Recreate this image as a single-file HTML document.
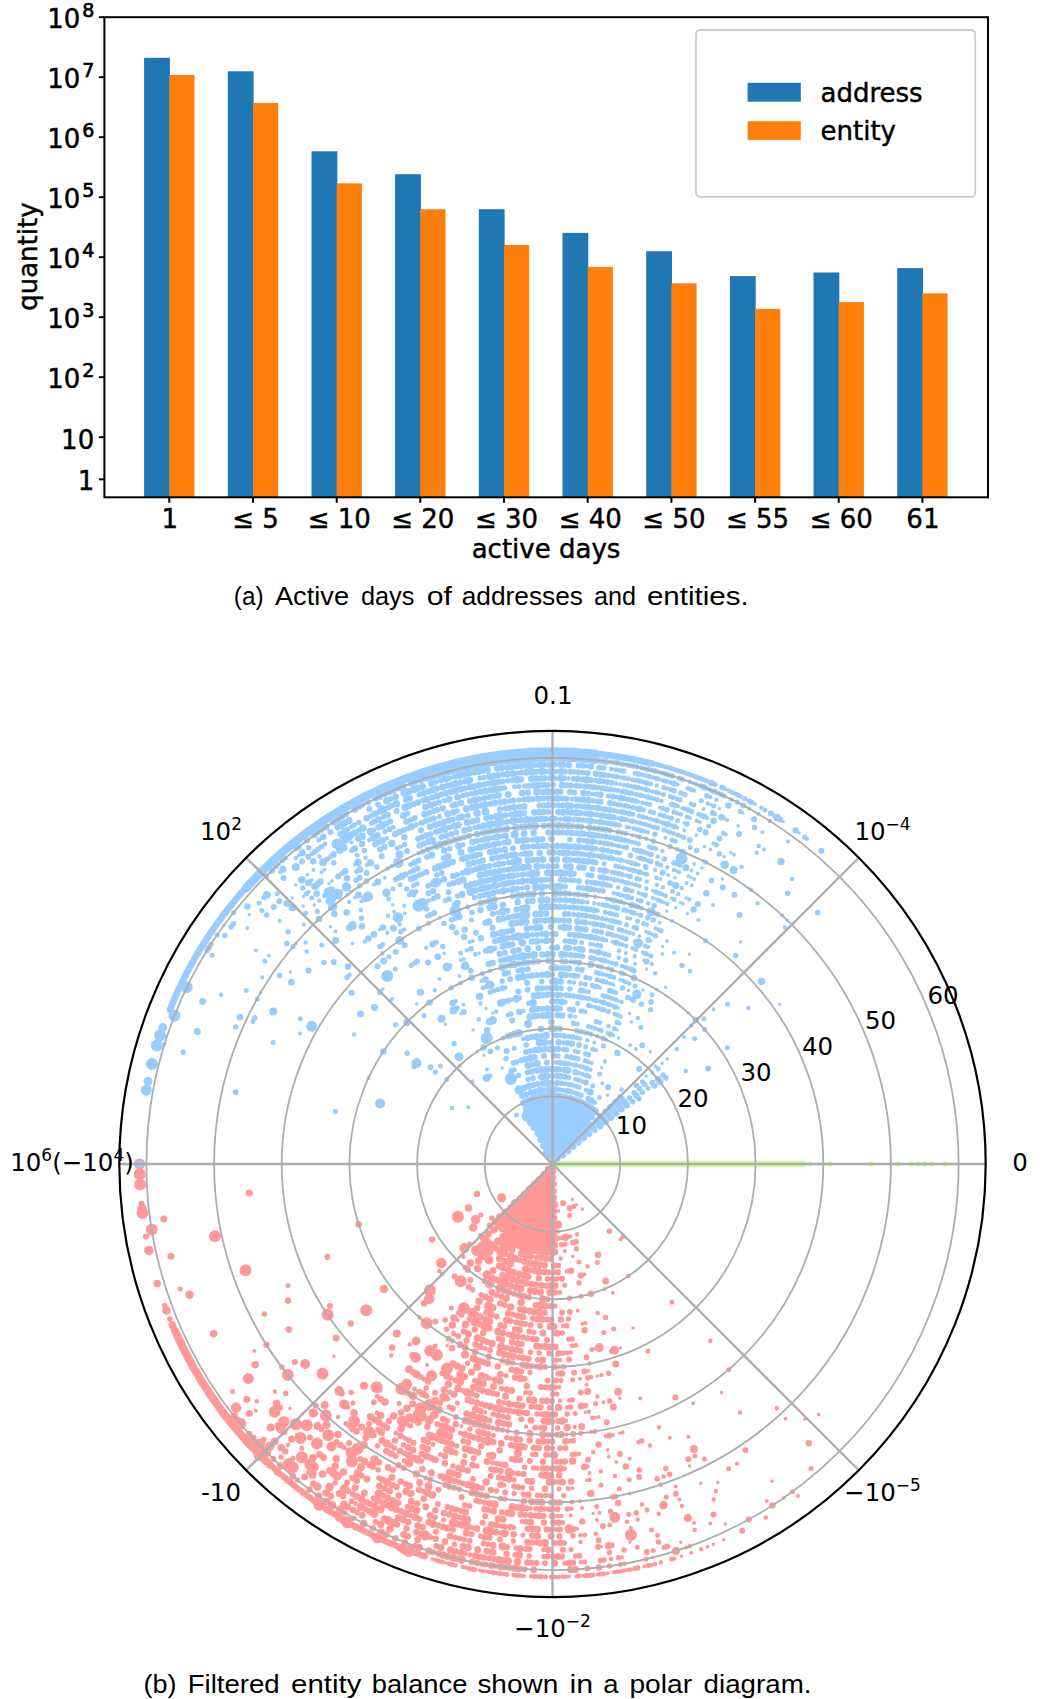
<!DOCTYPE html>
<html><head><meta charset="utf-8"><title>Figure</title>
<style>html,body{margin:0;padding:0;background:#fff}svg{display:block}text{font-family:"DejaVu Sans","Liberation Sans",sans-serif;fill:#000;stroke:#000;stroke-width:.45px}.pl text{stroke:none}.sup{stroke-width:.7px}.cap{font-family:"Liberation Sans",sans-serif;stroke:none}</style></head><body>
<svg width="1050" height="1699" viewBox="0 0 1050 1699">
<rect width="1050" height="1699" fill="#fff"/>
<g id="bars">
<rect x="144.1" y="57.8" width="25.8" height="439.5" fill="#1f77b4"/><rect x="169.3" y="75.0" width="25.2" height="422.3" fill="#ff7f0e"/>
<rect x="227.8" y="71.3" width="25.8" height="426.0" fill="#1f77b4"/><rect x="253.0" y="103.0" width="25.2" height="394.3" fill="#ff7f0e"/>
<rect x="311.5" y="151.3" width="25.8" height="346.0" fill="#1f77b4"/><rect x="336.7" y="183.3" width="25.2" height="314.0" fill="#ff7f0e"/>
<rect x="395.1" y="174.2" width="25.8" height="323.1" fill="#1f77b4"/><rect x="420.3" y="209.2" width="25.2" height="288.1" fill="#ff7f0e"/>
<rect x="478.8" y="209.2" width="25.8" height="288.1" fill="#1f77b4"/><rect x="504.0" y="245.0" width="25.2" height="252.3" fill="#ff7f0e"/>
<rect x="562.5" y="232.9" width="25.8" height="264.4" fill="#1f77b4"/><rect x="587.7" y="266.9" width="25.2" height="230.4" fill="#ff7f0e"/>
<rect x="646.2" y="251.3" width="25.8" height="246.0" fill="#1f77b4"/><rect x="671.4" y="283.3" width="25.2" height="214.0" fill="#ff7f0e"/>
<rect x="729.9" y="276.1" width="25.8" height="221.2" fill="#1f77b4"/><rect x="755.1" y="308.9" width="25.2" height="188.4" fill="#ff7f0e"/>
<rect x="813.5" y="272.5" width="25.8" height="224.8" fill="#1f77b4"/><rect x="838.7" y="302.1" width="25.2" height="195.2" fill="#ff7f0e"/>
<rect x="897.2" y="268.1" width="25.8" height="229.2" fill="#1f77b4"/><rect x="922.4" y="293.3" width="25.2" height="204.0" fill="#ff7f0e"/>
</g>
<rect x="104.4" y="17.2" width="883.6" height="480.1" fill="none" stroke="#000" stroke-width="2"/>
<g stroke="#000" stroke-width="2"><path d="M98.9 17.2H104.4"/><path d="M98.9 77.2H104.4"/><path d="M98.9 137.2H104.4"/><path d="M98.9 197.2H104.4"/><path d="M98.9 257.2H104.4"/><path d="M98.9 317.2H104.4"/><path d="M98.9 377.2H104.4"/><path d="M98.9 437.2H104.4"/><path d="M98.9 479.3H104.4"/><path d="M169.3 497.3V502.8"/><path d="M253.0 497.3V502.8"/><path d="M336.7 497.3V502.8"/><path d="M420.3 497.3V502.8"/><path d="M504.0 497.3V502.8"/><path d="M587.7 497.3V502.8"/><path d="M671.4 497.3V502.8"/><path d="M755.1 497.3V502.8"/><path d="M838.7 497.3V502.8"/><path d="M922.4 497.3V502.8"/></g>
<g font-size="26" text-anchor="end"><text x="80.4" y="27.5">10</text><text x="82.3" y="17.0" class="sup" font-size="19" text-anchor="start">8</text><text x="80.4" y="87.5">10</text><text x="82.3" y="77.0" class="sup" font-size="19" text-anchor="start">7</text><text x="80.4" y="147.5">10</text><text x="82.3" y="137.0" class="sup" font-size="19" text-anchor="start">6</text><text x="80.4" y="207.5">10</text><text x="82.3" y="197.0" class="sup" font-size="19" text-anchor="start">5</text><text x="80.4" y="267.5">10</text><text x="82.3" y="257.0" class="sup" font-size="19" text-anchor="start">4</text><text x="80.4" y="327.5">10</text><text x="82.3" y="317.0" class="sup" font-size="19" text-anchor="start">3</text><text x="80.4" y="387.5">10</text><text x="82.3" y="377.0" class="sup" font-size="19" text-anchor="start">2</text><text x="94.2" y="448.6">10</text><text x="94.2" y="490.2">1</text></g>
<g font-size="26" text-anchor="middle"><text x="169.8" y="528">1</text><text x="255.5" y="528">≤ 5</text><text x="339.2" y="528">≤ 10</text><text x="422.8" y="528">≤ 20</text><text x="506.5" y="528">≤ 30</text><text x="590.2" y="528">≤ 40</text><text x="673.9" y="528">≤ 50</text><text x="757.6" y="528">≤ 55</text><text x="841.2" y="528">≤ 60</text><text x="922.9" y="528">61</text><text x="546" y="557.8">active days</text><text transform="translate(36.8 256.6) rotate(-90)">quantity</text></g>
<rect x="696" y="30" width="279.2" height="166.8" rx="4" fill="#fff" stroke="#ccc" stroke-width="1.8"/><rect x="747.6" y="82.8" width="53.2" height="18.9" fill="#1f77b4"/><rect x="747.6" y="121.2" width="53.2" height="18.7" fill="#ff7f0e"/><text x="820.5" y="101.7" font-size="26">address</text><text x="820.5" y="139.6" font-size="26">entity</text>
<text class="cap" y="605.3" font-size="26"><tspan x="233.8" textLength="29.8" lengthAdjust="spacingAndGlyphs">(a)</tspan> <tspan x="275.0" textLength="74.0" lengthAdjust="spacingAndGlyphs">Active</tspan> <tspan x="360.9" textLength="53.4" lengthAdjust="spacingAndGlyphs">days</tspan> <tspan x="426.7" textLength="25.2" lengthAdjust="spacingAndGlyphs">of</tspan> <tspan x="461.7" textLength="121.3" lengthAdjust="spacingAndGlyphs">addresses</tspan> <tspan x="593.9" textLength="42.1" lengthAdjust="spacingAndGlyphs">and</tspan> <tspan x="646.9" textLength="101.8" lengthAdjust="spacingAndGlyphs">entities.</tspan></text>
<text class="cap" y="1692.7" font-size="26"><tspan x="143.4" textLength="33.0" lengthAdjust="spacingAndGlyphs">(b)</tspan> <tspan x="187.7" textLength="92.0" lengthAdjust="spacingAndGlyphs">Filtered</tspan> <tspan x="291.1" textLength="70.3" lengthAdjust="spacingAndGlyphs">entity</tspan> <tspan x="371.7" textLength="95.7" lengthAdjust="spacingAndGlyphs">balance</tspan> <tspan x="477.4" textLength="80.8" lengthAdjust="spacingAndGlyphs">shown</tspan> <tspan x="569.6" textLength="23.7" lengthAdjust="spacingAndGlyphs">in</tspan> <tspan x="603.3" textLength="15.3" lengthAdjust="spacingAndGlyphs">a</tspan> <tspan x="629.4" textLength="62.7" lengthAdjust="spacingAndGlyphs">polar</tspan> <tspan x="703.6" textLength="107.9" lengthAdjust="spacingAndGlyphs">diagram.</tspan></text>
<path d="M555.9 1164.0H802.9" stroke="#ccff99" stroke-width="6.6" stroke-linecap="round" fill="none"/><g fill="none" stroke="#ccff99" stroke-linecap="round">
<path stroke-width="5.5" d="M809.7 1164.0h0M823.2 1164.0h0M830.0 1164.0h0M870.6 1164.0h0M897.7 1164.0h0M911.2 1164.0h0M918.0 1164.0h0M924.8 1164.0h0M931.5 1164.0h0M945.1 1164.0h0"/>
<path stroke-width="6.5" d="M559.3 1164.0h0M566.0 1164.0h0M572.8 1164.0h0M579.6 1164.0h0M586.3 1164.0h0M593.1 1164.0h0M599.9 1164.0h0M606.6 1164.0h0M613.4 1164.0h0M620.2 1164.0h0M627.0 1164.0h0M633.7 1164.0h0M640.5 1164.0h0M647.3 1164.0h0M654.0 1164.0h0M660.8 1164.0h0M667.6 1164.0h0M674.3 1164.0h0M681.1 1164.0h0M687.9 1164.0h0M694.6 1164.0h0M701.4 1164.0h0M708.2 1164.0h0M715.0 1164.0h0M721.7 1164.0h0M728.5 1164.0h0M735.3 1164.0h0M742.0 1164.0h0M748.8 1164.0h0M755.6 1164.0h0M762.3 1164.0h0M769.1 1164.0h0M775.9 1164.0h0M782.6 1164.0h0M789.4 1164.0h0M796.2 1164.0h0M802.9 1164.0h0"/>
</g>
<path d="M178.6 1338.4A412.6 412.6 0 0 0 425.0 1556.4" fill="none" stroke="#ff9999" stroke-width="6.2" stroke-linecap="round"/><path d="M175.6 1331.8A412.6 412.6 0 0 0 265.9 1460.8" fill="none" stroke="#ff9999" stroke-width="8.2" stroke-linecap="round"/><path d="M548.9 1169.7A6.8 6.8 0 0 0 552.4 1170.8" fill="none" stroke="#ff9999" stroke-width="7.4" stroke-linecap="round"/><path d="M544.2 1174.7A13.5 13.5 0 0 0 552.6 1177.5" fill="none" stroke="#ff9999" stroke-width="7.4" stroke-linecap="round"/><path d="M539.4 1179.6A20.3 20.3 0 0 0 552.8 1184.3" fill="none" stroke="#ff9999" stroke-width="7.4" stroke-linecap="round"/><path d="M534.7 1184.4A27.1 27.1 0 0 0 553.0 1191.1" fill="none" stroke="#ff9999" stroke-width="7.4" stroke-linecap="round"/><path d="M530.0 1189.3A33.8 33.8 0 0 0 553.1 1197.8" fill="none" stroke="#ff9999" stroke-width="7.4" stroke-linecap="round"/><path d="M525.3 1194.2A40.6 40.6 0 0 0 553.3 1204.6" fill="none" stroke="#ff9999" stroke-width="7.4" stroke-linecap="round"/><path d="M520.8 1199.2A47.4 47.4 0 0 0 553.5 1211.4" fill="none" stroke="#ff9999" stroke-width="7.4" stroke-linecap="round"/><path d="M516.3 1204.2A54.1 54.1 0 0 0 553.7 1218.1" fill="none" stroke="#ff9999" stroke-width="7.4" stroke-linecap="round"/><path d="M511.7 1209.3A60.9 60.9 0 0 0 553.9 1224.9" fill="none" stroke="#ff9999" stroke-width="7.4" stroke-linecap="round"/><path d="M507.2 1214.3A67.7 67.7 0 0 0 554.0 1231.7" fill="none" stroke="#ff9999" stroke-width="7.4" stroke-linecap="round"/><path d="M502.7 1219.3A74.5 74.5 0 0 0 554.2 1238.4" fill="none" stroke="#ff9999" stroke-width="7.4" stroke-linecap="round"/><path d="M507.1 1231.3A81.2 81.2 0 0 0 554.4 1245.2" fill="none" stroke="#ff9999" stroke-width="7.4" stroke-linecap="round"/><path d="M503.3 1237.0A88.0 88.0 0 0 0 554.6 1252.0" fill="none" stroke="#ff9999" stroke-width="7.4" stroke-linecap="round"/><g fill="none" stroke="#ff9999" stroke-linecap="round">
<path stroke-width="3.5" d="M555.7 1184.1h0M555.2 1190.9h0M572.3 1199.5h0M558.6 1211.0h0M576.4 1204.9h0M582.4 1209.1h0M572.7 1256.6h0M633.0 1328.1h0M620.6 1348.1h0M447.3 1345.6h0M597.3 1375.9h0M443.5 1366.7h0M619.8 1398.2h0M585.2 1412.3h0M595.4 1417.6h0M619.7 1433.3h0M721.6 1392.5h0M333.9 1356.2h0M607.7 1449.8h0M586.5 1480.3h0M689.5 1466.1h0M593.1 1513.6h0M700.7 1483.3h0M289.9 1408.4h0M717.8 1482.4h0M804.8 1419.1h0M601.3 1546.7h0M629.8 1542.0h0M772.1 1481.2h0M680.7 1542.2h0M725.2 1524.1h0M652.6 1557.6h0M783.6 1497.9h0M445.9 1562.9h0M597.3 1574.5h0M681.4 1556.3h0M713.3 1544.3h0M723.6 1539.8h0"/>
<path stroke-width="4.0" d="M558.2 1231.5h0M564.8 1251.1h0M480.1 1235.1h0M620.4 1239.5h0M584.3 1274.6h0M604.7 1288.9h0M612.8 1292.7h0M577.7 1310.8h0M582.4 1323.7h0M585.7 1323.0h0M457.7 1320.3h0M596.0 1348.5h0M559.3 1366.9h0M588.1 1370.8h0M580.0 1378.8h0M586.4 1384.8h0M427.1 1365.0h0M603.5 1402.3h0M640.2 1398.6h0M566.3 1420.8h0M598.6 1417.0h0M566.3 1434.4h0M591.1 1432.0h0M461.4 1426.2h0M622.6 1432.5h0M693.2 1403.2h0M608.7 1456.5h0M669.8 1437.8h0M616.2 1461.9h0M629.6 1458.7h0M688.2 1436.7h0M589.6 1473.1h0M572.4 1488.3h0M580.1 1501.3h0M629.8 1493.5h0M582.1 1507.9h0M675.8 1486.4h0M785.5 1418.7h0M254.3 1351.0h0M570.8 1515.5h0M599.7 1512.8h0M736.9 1463.8h0M597.0 1520.0h0M679.4 1499.5h0M577.1 1528.7h0M818.7 1414.4h0M630.8 1528.0h0M255.8 1410.7h0M694.0 1522.9h0M710.3 1523.5h0M621.9 1557.3h0M766.7 1501.1h0M686.4 1547.4h0M416.3 1553.8h0M432.5 1559.1h0M475.7 1569.7h0M479.9 1570.5h0M486.6 1571.6h0M568.8 1576.6h0M576.4 1576.2h0M583.1 1575.8h0M607.4 1573.2h0M644.2 1566.6h0M691.4 1552.8h0M707.4 1546.8h0M797.8 1496.1h0"/>
<path stroke-width="4.5" d="M561.8 1237.9h0M569.9 1236.4h0M577.0 1234.3h0M560.6 1258.4h0M622.7 1237.3h0M587.6 1266.4h0M463.4 1256.7h0M628.5 1276.1h0M439.3 1270.9h0M442.1 1273.7h0M597.7 1313.0h0M570.8 1352.6h0M560.1 1360.1h0M419.5 1317.4h0M589.7 1363.6h0M591.1 1377.1h0M601.5 1375.0h0M559.2 1387.3h0M409.7 1344.5h0M560.1 1400.8h0M569.1 1400.3h0M597.4 1396.6h0M710.3 1340.7h0M567.2 1407.2h0M391.2 1355.6h0M588.9 1411.8h0M485.1 1412.2h0M592.3 1418.1h0M526.0 1426.6h0M574.7 1427.0h0M606.0 1436.3h0M612.4 1435.0h0M380.3 1390.2h0M659.0 1427.6h0M579.1 1453.8h0M593.1 1452.2h0M638.2 1442.2h0M650.0 1445.4h0M376.8 1412.8h0M587.4 1466.6h0M600.9 1471.6h0M740.1 1412.5h0M589.5 1480.0h0M615.0 1475.9h0M338.1 1417.1h0M663.6 1476.5h0M776.8 1408.3h0M660.6 1484.7h0M530.5 1508.5h0M571.4 1508.7h0M557.3 1515.9h0M561.4 1515.9h0M641.9 1504.4h0M275.0 1391.4h0M627.1 1521.8h0M637.7 1519.4h0M658.7 1513.8h0M681.9 1505.9h0M715.8 1491.0h0M580.4 1535.2h0M595.7 1533.8h0M713.7 1499.6h0M256.8 1401.2h0M580.5 1542.0h0M287.9 1444.8h0M694.7 1529.9h0M580.9 1562.3h0M611.1 1559.0h0M624.4 1563.7h0M689.8 1546.2h0M280.5 1474.6h0M292.1 1484.5h0M436.0 1560.1h0M455.7 1565.4h0M462.6 1567.0h0M465.5 1567.6h0M482.8 1571.0h0M489.6 1572.1h0M496.8 1573.1h0M503.7 1574.0h0M513.4 1575.0h0M520.3 1575.6h0M523.8 1575.9h0M531.2 1576.3h0M554.9 1576.9h0M558.4 1576.9h0M562.3 1576.8h0M565.5 1576.7h0M614.3 1572.2h0M617.5 1571.7h0M620.9 1571.2h0M624.1 1570.6h0M627.9 1569.9h0M630.8 1569.4h0M651.3 1564.9h0M655.0 1564.0h0M660.9 1562.4h0M674.2 1558.5h0M701.2 1549.2h0M765.9 1517.5h0"/>
<path stroke-width="5.0" d="M547.5 1168.5h0M554.5 1197.8h0M554.4 1211.3h0M573.6 1206.4h0M569.6 1215.4h0M565.1 1244.2h0M480.8 1215.0h0M578.9 1262.0h0M567.1 1271.3h0M597.3 1262.6h0M469.6 1243.8h0M564.7 1285.2h0M559.7 1292.4h0M581.0 1296.3h0M563.4 1326.1h0M451.4 1308.0h0M458.5 1312.8h0M603.7 1332.4h0M613.6 1329.0h0M572.2 1345.7h0M575.8 1345.3h0M671.9 1302.3h0M567.3 1352.9h0M591.9 1349.4h0M485.2 1348.4h0M611.4 1351.3h0M452.7 1340.9h0M647.9 1350.9h0M435.2 1346.1h0M506.1 1375.6h0M572.7 1379.7h0M489.6 1378.3h0M525.6 1392.6h0M556.9 1394.1h0M462.4 1390.4h0M503.4 1402.7h0M595.6 1403.8h0M575.2 1413.4h0M447.7 1398.9h0M457.4 1403.0h0M552.8 1421.2h0M414.5 1389.0h0M492.9 1428.1h0M507.7 1431.0h0M580.6 1433.3h0M595.0 1431.4h0M728.6 1369.7h0M493.4 1435.2h0M511.0 1438.4h0M569.8 1441.0h0M399.1 1403.4h0M460.4 1433.0h0M552.4 1448.3h0M288.0 1285.4h0M377.1 1396.3h0M532.3 1454.4h0M549.9 1455.0h0M571.9 1454.4h0M433.0 1444.2h0M464.8 1455.7h0M492.6 1462.7h0M537.0 1468.2h0M564.5 1468.4h0M352.9 1403.0h0M396.0 1433.1h0M405.0 1438.2h0M440.5 1454.5h0M504.0 1485.3h0M559.1 1488.8h0M568.1 1488.5h0M601.1 1485.3h0M629.2 1479.7h0M694.9 1456.0h0M345.9 1423.5h0M348.7 1425.7h0M404.2 1460.7h0M541.5 1495.5h0M563.7 1495.5h0M619.4 1488.8h0M704.4 1458.9h0M425.9 1477.9h0M571.9 1501.9h0M596.6 1506.4h0M666.2 1497.1h0M728.6 1468.8h0M522.1 1521.5h0M562.7 1522.6h0M628.8 1514.5h0M646.9 1510.1h0M513.8 1527.5h0M555.5 1529.5h0M609.8 1525.0h0M443.6 1520.0h0M472.9 1527.7h0M500.7 1532.7h0M522.9 1535.1h0M584.8 1534.9h0M301.8 1448.3h0M651.5 1529.9h0M543.8 1549.7h0M571.0 1549.4h0M657.6 1535.2h0M180.3 1289.0h0M232.5 1391.5h0M355.8 1503.7h0M575.4 1555.9h0M637.3 1547.3h0M470.0 1554.7h0M564.6 1563.2h0M584.8 1562.0h0M653.3 1550.4h0M663.9 1547.5h0M811.0 1468.4h0M353.9 1518.3h0M620.5 1564.4h0M645.9 1559.2h0M792.3 1491.8h0M412.4 1552.4h0M438.6 1560.9h0M442.7 1562.0h0M449.4 1563.8h0M452.5 1564.6h0M469.0 1568.4h0M500.0 1573.5h0M506.9 1574.4h0M516.9 1575.4h0M534.8 1576.5h0M538.0 1576.6h0M545.3 1576.8h0M551.3 1576.9h0M579.0 1576.0h0M590.0 1575.2h0M593.0 1574.9h0M599.8 1574.2h0M603.4 1573.7h0M634.8 1568.6h0M648.2 1565.6h0M671.6 1559.3h0"/>
<path stroke-width="5.5" d="M550.3 1184.2h0M550.2 1191.0h0M549.6 1197.7h0M553.9 1218.1h0M543.6 1224.3h0M553.7 1231.7h0M557.6 1238.3h0M491.8 1218.0h0M561.5 1244.7h0M576.2 1241.7h0M576.4 1248.7h0M609.3 1231.2h0M558.4 1265.4h0M556.8 1279.0h0M521.6 1281.8h0M579.0 1282.9h0M465.1 1267.4h0M569.6 1298.3h0M554.7 1306.1h0M457.6 1278.8h0M472.7 1289.7h0M481.1 1294.7h0M568.3 1318.9h0M566.8 1325.8h0M605.6 1317.5h0M533.8 1332.2h0M562.4 1332.9h0M508.5 1334.4h0M568.7 1339.2h0M572.1 1338.9h0M445.1 1320.1h0M530.5 1352.2h0M539.2 1353.1h0M562.8 1353.2h0M446.5 1329.2h0M453.7 1333.6h0M537.5 1359.7h0M556.3 1360.3h0M502.4 1360.8h0M512.7 1363.1h0M536.3 1366.4h0M545.3 1366.9h0M563.5 1366.8h0M530.0 1372.6h0M467.6 1363.3h0M560.8 1380.4h0M587.7 1377.7h0M608.6 1373.2h0M474.7 1380.6h0M501.6 1388.4h0M530.0 1393.0h0M442.0 1373.5h0M450.9 1378.0h0M572.2 1400.1h0M513.1 1404.5h0M549.6 1407.7h0M570.7 1407.0h0M585.7 1405.4h0M609.6 1400.9h0M424.6 1379.4h0M449.6 1392.3h0M522.7 1412.7h0M537.0 1414.0h0M541.5 1414.2h0M567.1 1414.0h0M426.2 1388.1h0M493.3 1414.3h0M503.0 1416.4h0M449.1 1406.9h0M540.8 1427.7h0M557.7 1427.9h0M502.3 1430.1h0M548.5 1434.7h0M552.3 1434.7h0M470.0 1429.0h0M506.7 1437.7h0M535.9 1454.6h0M575.1 1454.2h0M641.6 1441.1h0M410.5 1425.8h0M456.6 1446.0h0M488.6 1454.9h0M556.4 1461.8h0M351.1 1392.5h0M497.4 1463.6h0M501.2 1464.2h0M524.6 1467.3h0M533.5 1468.0h0M551.1 1468.6h0M476.7 1466.0h0M513.1 1472.9h0M347.3 1407.1h0M403.5 1445.1h0M452.9 1466.1h0M513.9 1479.8h0M558.2 1482.1h0M639.3 1470.1h0M264.3 1314.0h0M390.8 1445.8h0M394.5 1447.9h0M404.5 1453.2h0M421.3 1461.2h0M522.5 1487.5h0M531.6 1488.2h0M665.8 1468.5h0M377.6 1445.8h0M496.5 1490.9h0M514.2 1493.5h0M523.3 1494.4h0M537.4 1495.3h0M545.7 1495.6h0M550.8 1495.7h0M657.1 1478.8h0M669.7 1474.3h0M281.8 1367.1h0M459.1 1489.3h0M500.6 1498.4h0M504.8 1499.1h0M550.8 1502.4h0M612.6 1497.1h0M615.4 1496.5h0M536.0 1508.8h0M544.9 1509.1h0M553.1 1509.2h0M567.4 1508.9h0M285.7 1393.5h0M321.3 1429.4h0M343.6 1447.3h0M348.2 1450.6h0M378.1 1469.7h0M423.6 1491.5h0M610.5 1511.2h0M378.9 1477.9h0M636.3 1512.8h0M458.9 1517.3h0M501.1 1525.9h0M297.8 1435.5h0M435.2 1517.3h0M572.9 1535.7h0M410.3 1515.4h0M480.6 1536.2h0M513.4 1541.0h0M536.5 1542.7h0M564.3 1542.9h0M335.2 1482.8h0M455.5 1537.4h0M464.1 1539.6h0M487.7 1544.3h0M516.2 1548.1h0M612.0 1545.2h0M292.9 1458.5h0M308.9 1471.9h0M454.6 1544.2h0M529.2 1555.9h0M544.0 1556.5h0M609.4 1552.4h0M624.1 1550.0h0M658.5 1542.0h0M281.1 1457.0h0M600.5 1560.5h0M604.2 1560.0h0M618.6 1557.8h0M297.5 1480.1h0M344.5 1512.8h0M481.9 1563.9h0M495.5 1566.1h0M609.5 1566.1h0M164.7 1305.6h0M169.8 1319.1h0M183.8 1349.8h0M303.2 1493.2h0M323.2 1507.4h0M422.4 1555.9h0M473.1 1569.2h0M493.1 1572.6h0M540.9 1576.7h0M586.3 1575.5h0M637.7 1568.0h0"/>
<path stroke-width="6.0" d="M563.1 1203.2h0M535.4 1208.2h0M550.1 1211.3h0M569.5 1208.2h0M543.8 1217.4h0M552.9 1224.9h0M548.6 1231.6h0M543.5 1237.9h0M548.4 1238.3h0M553.0 1238.5h0M573.1 1242.6h0M489.6 1225.5h0M546.6 1251.8h0M537.0 1257.5h0M519.5 1260.0h0M530.0 1269.9h0M548.5 1272.2h0M553.6 1272.3h0M547.6 1279.0h0M552.8 1279.1h0M562.0 1278.7h0M546.3 1285.7h0M554.9 1292.6h0M484.6 1281.1h0M514.2 1293.8h0M529.0 1297.3h0M547.6 1299.3h0M470.3 1279.9h0M501.7 1296.7h0M535.7 1305.2h0M550.3 1306.1h0M454.5 1276.2h0M468.5 1286.9h0M504.8 1305.1h0M519.6 1309.2h0M562.0 1312.6h0M569.8 1311.9h0M512.7 1314.5h0M532.8 1318.4h0M546.6 1319.6h0M496.8 1316.6h0M510.7 1321.0h0M516.3 1322.4h0M525.1 1324.1h0M530.7 1325.0h0M540.0 1326.0h0M500.4 1325.0h0M504.4 1326.2h0M514.9 1329.0h0M529.3 1331.6h0M461.6 1314.7h0M469.5 1319.2h0M523.1 1337.5h0M536.5 1339.3h0M547.1 1339.9h0M498.6 1338.6h0M506.5 1347.9h0M520.9 1350.9h0M549.3 1353.5h0M435.3 1321.5h0M458.3 1336.2h0M490.1 1350.1h0M519.2 1357.4h0M569.0 1359.6h0M586.5 1357.3h0M448.7 1338.6h0M531.3 1365.9h0M521.2 1371.5h0M558.2 1373.8h0M574.1 1372.7h0M584.3 1371.4h0M524.6 1378.8h0M547.6 1380.5h0M555.7 1380.6h0M540.7 1387.1h0M545.3 1387.3h0M554.5 1387.4h0M553.0 1394.1h0M580.7 1392.4h0M492.7 1393.2h0M497.1 1394.3h0M519.4 1398.6h0M552.1 1400.9h0M327.3 1257.0h0M476.7 1395.6h0M499.0 1401.7h0M531.4 1406.8h0M536.5 1407.1h0M420.8 1377.0h0M481.4 1404.1h0M514.0 1411.5h0M550.0 1414.4h0M435.0 1392.8h0M480.6 1411.0h0M498.2 1415.4h0M507.7 1417.3h0M521.3 1419.3h0M558.3 1421.1h0M330.0 1306.0h0M419.1 1391.8h0M426.5 1395.9h0M475.3 1416.5h0M489.7 1420.4h0M535.3 1427.4h0M606.8 1422.3h0M675.4 1397.6h0M409.5 1393.9h0M456.0 1417.0h0M479.4 1424.7h0M488.4 1427.1h0M497.5 1429.1h0M516.7 1432.4h0M557.2 1434.7h0M573.2 1434.0h0M447.2 1420.8h0M488.4 1434.0h0M520.2 1439.6h0M538.3 1441.2h0M547.8 1441.5h0M552.5 1441.5h0M573.0 1440.8h0M609.3 1435.6h0M437.4 1423.9h0M560.1 1448.2h0M565.5 1448.0h0M463.3 1441.1h0M545.9 1455.0h0M373.8 1402.3h0M474.1 1451.3h0M511.6 1459.0h0M520.2 1460.1h0M529.8 1461.0h0M560.2 1461.7h0M588.0 1459.7h0M620.0 1454.1h0M428.0 1442.0h0M455.7 1452.8h0M473.6 1458.2h0M341.9 1393.4h0M409.0 1440.3h0M413.6 1442.7h0M491.1 1469.3h0M518.2 1473.5h0M369.0 1423.9h0M378.0 1430.0h0M490.6 1476.1h0M504.0 1478.4h0M527.3 1481.1h0M554.4 1482.1h0M294.9 1362.0h0M373.8 1435.3h0M473.0 1479.0h0M514.2 1486.6h0M639.2 1477.1h0M688.3 1459.2h0M395.4 1456.1h0M459.0 1482.2h0M463.3 1483.5h0M481.9 1488.1h0M505.1 1492.3h0M315.5 1405.6h0M403.5 1467.9h0M430.4 1479.6h0M445.3 1485.0h0M454.2 1487.8h0M481.6 1494.9h0M349.1 1442.9h0M393.0 1470.1h0M438.5 1489.8h0M461.7 1497.1h0M476.3 1500.7h0M479.6 1501.4h0M484.8 1502.5h0M526.6 1508.2h0M549.4 1509.2h0M557.5 1509.2h0M745.4 1450.3h0M336.5 1441.9h0M360.4 1458.9h0M405.7 1483.9h0M464.8 1504.9h0M469.5 1506.0h0M488.7 1510.1h0M501.8 1512.3h0M525.3 1514.9h0M534.8 1515.5h0M543.5 1515.9h0M675.8 1493.7h0M437.9 1504.0h0M447.4 1507.0h0M456.4 1509.6h0M461.2 1510.9h0M485.1 1516.3h0M526.2 1521.8h0M280.0 1407.6h0M310.0 1437.5h0M361.7 1475.8h0M482.6 1522.8h0M504.7 1526.4h0M551.4 1529.5h0M559.9 1529.4h0M602.9 1526.0h0M407.4 1506.8h0M559.4 1536.2h0M347.1 1482.6h0M373.6 1498.2h0M419.4 1518.9h0M452.9 1529.7h0M471.6 1534.3h0M489.6 1537.8h0M499.8 1539.4h0M531.8 1542.5h0M554.9 1543.0h0M598.6 1540.2h0M348.3 1491.3h0M435.9 1531.8h0M459.7 1538.5h0M469.7 1540.8h0M483.6 1543.6h0M507.4 1547.2h0M525.8 1548.9h0M529.6 1549.1h0M562.9 1549.7h0M598.1 1547.1h0M713.5 1514.6h0M351.6 1501.3h0M365.2 1509.0h0M397.4 1524.7h0M430.3 1537.1h0M515.4 1554.8h0M547.8 1556.6h0M579.2 1555.7h0M263.6 1439.7h0M357.4 1512.5h0M375.5 1522.0h0M436.3 1546.1h0M464.6 1553.6h0M489.2 1558.3h0M494.2 1559.1h0M531.7 1562.8h0M536.3 1563.0h0M545.0 1563.3h0M573.3 1562.8h0M646.9 1552.0h0M667.1 1546.6h0M273.3 1458.9h0M433.2 1552.2h0M485.5 1564.6h0M504.6 1567.3h0M524.6 1569.2h0M587.5 1568.6h0M748.7 1519.6h0M141.5 1203.7h0M146.0 1236.5h0M175.5 1332.4h0M186.3 1354.8h0M197.7 1375.2h0M205.7 1388.1h0M208.5 1392.4h0M231.3 1423.4h0M262.8 1458.2h0M266.9 1462.2h0M288.1 1481.1h0M314.4 1501.3h0M359.9 1529.2h0M742.2 1530.7h0"/>
<path stroke-width="6.5" d="M550.9 1177.4h0M541.0 1188.5h0M540.6 1195.7h0M510.4 1208.0h0M543.8 1231.1h0M523.0 1232.3h0M533.2 1235.9h0M477.0 1194.1h0M527.5 1241.3h0M537.0 1243.7h0M547.5 1245.1h0M551.2 1245.2h0M517.1 1244.6h0M522.3 1246.6h0M532.1 1249.6h0M551.8 1252.0h0M530.9 1256.3h0M551.1 1258.8h0M540.1 1264.8h0M544.8 1265.2h0M554.2 1265.5h0M598.1 1254.7h0M533.9 1270.7h0M557.8 1272.2h0M571.0 1270.7h0M538.8 1278.3h0M580.9 1275.5h0M531.8 1284.1h0M535.9 1284.7h0M541.3 1285.3h0M491.8 1277.4h0M467.8 1269.6h0M519.2 1295.2h0M590.9 1293.8h0M432.1 1239.5h0M496.7 1294.7h0M500.2 1303.4h0M544.5 1312.7h0M508.0 1313.2h0M517.8 1315.8h0M536.9 1318.9h0M551.2 1319.7h0M560.8 1319.5h0M477.2 1307.9h0M486.4 1312.4h0M521.1 1323.4h0M584.6 1330.2h0M480.0 1324.3h0M517.8 1336.5h0M527.4 1338.2h0M532.8 1338.9h0M474.7 1329.4h0M483.2 1333.1h0M502.1 1339.7h0M512.0 1342.2h0M517.7 1343.4h0M521.4 1344.1h0M540.8 1346.4h0M550.2 1346.7h0M555.5 1346.7h0M424.1 1303.4h0M463.8 1331.5h0M486.8 1341.8h0M516.8 1350.1h0M558.3 1353.4h0M466.5 1340.4h0M475.6 1344.6h0M499.3 1352.9h0M508.4 1355.3h0M523.2 1358.1h0M528.3 1358.8h0M358.6 1224.2h0M475.0 1351.7h0M488.7 1356.8h0M522.5 1364.8h0M554.8 1367.0h0M452.1 1348.2h0M478.6 1360.4h0M482.9 1361.9h0M497.7 1366.5h0M511.5 1369.8h0M562.0 1373.6h0M515.2 1377.4h0M526.8 1385.9h0M550.7 1387.4h0M506.6 1389.5h0M455.8 1380.3h0M478.9 1389.2h0M482.7 1390.4h0M542.3 1400.7h0M546.9 1400.8h0M392.1 1347.4h0M522.3 1405.8h0M540.4 1407.4h0M413.3 1372.2h0M428.2 1381.4h0M471.4 1401.0h0M485.7 1405.4h0M503.8 1409.7h0M509.2 1410.7h0M526.8 1413.1h0M554.9 1414.4h0M350.8 1323.6h0M543.6 1421.1h0M439.8 1402.7h0M452.6 1408.4h0M466.5 1413.6h0M503.6 1423.4h0M544.2 1427.8h0M434.0 1407.4h0M470.1 1421.9h0M484.0 1425.9h0M443.2 1419.1h0M455.7 1424.1h0M478.5 1431.5h0M529.7 1440.6h0M565.4 1441.2h0M469.8 1436.0h0M474.6 1437.4h0M484.1 1439.9h0M493.3 1442.1h0M510.9 1445.2h0M534.0 1447.7h0M539.0 1448.0h0M598.6 1444.5h0M380.9 1399.1h0M400.9 1412.4h0M427.5 1426.8h0M468.1 1442.6h0M481.2 1446.2h0M499.7 1450.2h0M288.0 1300.8h0M406.3 1423.5h0M446.8 1442.4h0M478.3 1452.4h0M542.9 1461.7h0M564.9 1461.6h0M388.9 1420.9h0M423.8 1440.1h0M505.3 1464.9h0M542.6 1468.4h0M546.9 1468.5h0M556.2 1468.6h0M584.1 1467.0h0M288.7 1329.5h0M383.4 1425.4h0M387.0 1427.7h0M400.7 1435.8h0M422.8 1447.1h0M444.9 1456.2h0M472.5 1464.9h0M500.5 1471.0h0M523.4 1474.0h0M541.4 1475.2h0M559.2 1475.3h0M625.8 1466.6h0M395.1 1440.5h0M413.2 1450.0h0M421.7 1454.0h0M431.2 1458.1h0M444.8 1463.3h0M467.6 1470.6h0M499.0 1477.6h0M571.1 1481.6h0M400.1 1450.9h0M413.5 1457.7h0M453.7 1473.5h0M458.3 1474.9h0M500.5 1484.7h0M517.8 1487.0h0M545.0 1488.8h0M356.5 1431.6h0M365.6 1438.0h0M422.4 1469.1h0M440.9 1476.3h0M454.7 1480.9h0M490.9 1489.9h0M266.4 1344.7h0M398.4 1465.3h0M449.5 1486.4h0M486.7 1496.0h0M523.8 1501.2h0M537.1 1502.1h0M554.7 1502.4h0M559.5 1502.4h0M378.9 1462.4h0M540.5 1509.0h0M618.1 1502.9h0M340.4 1444.9h0M373.0 1466.7h0M400.7 1481.5h0M484.5 1509.3h0M520.7 1514.5h0M530.6 1515.3h0M392.3 1485.0h0M396.6 1487.1h0M423.7 1498.8h0M452.0 1508.4h0M543.9 1522.6h0M553.3 1522.7h0M558.8 1522.7h0M582.2 1521.5h0M379.3 1485.9h0M384.6 1488.6h0M398.6 1495.5h0M417.2 1503.5h0M435.3 1510.2h0M443.9 1513.0h0M449.2 1514.6h0M491.2 1524.3h0M496.2 1525.1h0M510.3 1527.1h0M528.0 1528.7h0M546.7 1529.5h0M573.4 1528.9h0M352.4 1477.9h0M356.9 1480.8h0M383.3 1495.6h0M388.0 1498.0h0M513.7 1534.3h0M532.3 1535.7h0M278.0 1425.4h0M284.3 1431.9h0M400.6 1511.3h0M438.3 1525.4h0M442.4 1526.7h0M559.9 1543.0h0M808.8 1443.2h0M353.1 1494.3h0M366.8 1502.2h0M370.5 1504.2h0M408.4 1521.9h0M285.3 1451.6h0M343.0 1496.0h0M406.6 1528.5h0M421.4 1534.1h0M435.7 1538.8h0M506.7 1553.9h0M553.3 1556.6h0M561.8 1556.5h0M313.3 1483.8h0M330.9 1496.3h0M353.3 1510.1h0M407.8 1536.2h0M479.6 1556.7h0M484.2 1557.5h0M527.4 1562.6h0M249.1 1434.0h0M309.5 1489.4h0M372.8 1528.2h0M395.3 1538.5h0M415.0 1546.2h0M438.6 1553.8h0M456.9 1558.7h0M472.0 1562.1h0M477.2 1563.1h0M509.4 1567.8h0M599.0 1567.5h0M772.4 1505.4h0M177.7 1337.2h0M179.9 1341.9h0M195.8 1371.9h0M200.1 1379.1h0M202.9 1383.7h0M213.5 1399.7h0M351.8 1524.8h0"/>
<path stroke-width="7.0" d="M546.0 1190.3h0M545.1 1197.0h0M539.2 1202.4h0M550.4 1204.6h0M554.8 1204.5h0M520.3 1198.7h0M525.6 1203.0h0M539.7 1209.6h0M544.6 1210.7h0M534.9 1215.2h0M549.1 1218.0h0M519.6 1215.3h0M529.2 1220.3h0M538.5 1223.3h0M548.8 1224.8h0M529.1 1227.5h0M539.3 1230.4h0M504.3 1220.7h0M537.8 1237.0h0M513.1 1235.0h0M521.9 1239.3h0M532.3 1242.7h0M537.3 1250.7h0M488.4 1233.8h0M541.4 1258.1h0M546.0 1258.5h0M483.3 1238.3h0M495.3 1247.9h0M504.8 1253.6h0M524.6 1261.6h0M489.8 1252.3h0M505.0 1261.3h0M525.2 1268.8h0M544.6 1272.0h0M484.3 1256.7h0M499.5 1266.1h0M503.4 1268.1h0M508.8 1270.5h0M513.5 1272.3h0M528.0 1276.4h0M493.2 1270.4h0M502.7 1275.2h0M512.7 1279.1h0M517.5 1280.7h0M554.9 1285.8h0M496.6 1279.8h0M506.1 1283.9h0M510.3 1285.5h0M515.7 1287.2h0M549.8 1292.6h0M605.6 1281.1h0M523.8 1296.3h0M492.0 1292.6h0M506.4 1298.5h0M545.4 1306.0h0M485.2 1296.8h0M490.1 1299.2h0M529.6 1311.1h0M522.9 1316.8h0M541.7 1319.3h0M491.0 1314.4h0M550.1 1326.4h0M553.9 1326.4h0M475.6 1314.7h0M480.5 1317.1h0M485.6 1319.4h0M489.8 1321.2h0M519.3 1329.9h0M543.0 1333.0h0M556.8 1333.2h0M502.7 1332.8h0M536.6 1346.1h0M468.5 1333.9h0M482.7 1340.2h0M511.4 1349.0h0M480.1 1346.5h0M504.1 1354.2h0M542.6 1360.0h0M460.1 1344.8h0M465.2 1347.4h0M507.6 1362.0h0M526.6 1365.4h0M540.6 1366.7h0M487.6 1363.5h0M615.7 1364.1h0M500.4 1374.2h0M457.1 1366.0h0M471.5 1372.2h0M485.9 1377.2h0M495.4 1379.9h0M500.2 1381.2h0M464.6 1376.7h0M483.3 1383.5h0M493.4 1386.4h0M511.5 1390.5h0M587.7 1391.4h0M473.4 1387.3h0M488.2 1392.0h0M505.5 1396.2h0M529.3 1399.8h0M471.0 1393.6h0M508.8 1403.7h0M517.4 1405.1h0M581.2 1406.0h0M444.1 1389.8h0M454.1 1394.3h0M467.9 1399.7h0M476.9 1402.8h0M495.8 1407.9h0M545.1 1414.3h0M613.4 1406.9h0M531.0 1420.3h0M484.8 1419.2h0M508.8 1424.3h0M581.6 1426.4h0M561.2 1434.6h0M336.2 1337.9h0M412.7 1403.7h0M483.4 1432.8h0M516.0 1439.1h0M542.8 1441.3h0M416.4 1413.6h0M451.8 1429.8h0M465.0 1434.5h0M478.6 1438.5h0M501.2 1443.6h0M515.4 1445.9h0M524.3 1446.9h0M547.3 1448.2h0M413.7 1419.9h0M438.2 1439.0h0M442.4 1440.7h0M451.4 1444.1h0M465.2 1448.7h0M249.3 1193.0h0M487.0 1461.5h0M560.5 1468.5h0M375.1 1419.9h0M378.9 1422.5h0M427.4 1449.1h0M463.7 1462.4h0M494.8 1470.0h0M550.2 1475.4h0M408.4 1447.6h0M435.2 1459.7h0M458.6 1467.9h0M462.1 1469.0h0M562.5 1482.0h0M361.6 1426.9h0M382.0 1440.6h0M449.6 1472.2h0M352.7 1428.7h0M386.5 1451.1h0M390.9 1453.6h0M431.4 1472.8h0M477.1 1487.0h0M528.2 1494.8h0M477.0 1493.9h0M531.7 1501.8h0M541.9 1502.3h0M388.3 1467.6h0M419.7 1482.6h0M489.9 1503.5h0M517.9 1507.5h0M369.8 1464.8h0M391.9 1477.2h0M409.6 1485.7h0M419.2 1489.8h0M493.5 1511.0h0M507.6 1513.1h0M539.0 1515.7h0M552.3 1516.0h0M382.5 1479.9h0M465.6 1512.1h0M502.9 1519.3h0M530.6 1522.1h0M366.9 1478.9h0M389.4 1491.1h0M411.3 1501.2h0M425.7 1506.8h0M454.3 1516.1h0M532.7 1529.0h0M537.6 1529.2h0M319.6 1454.4h0M323.5 1457.5h0M392.9 1500.4h0M398.0 1502.7h0M430.0 1515.5h0M457.9 1524.1h0M462.4 1525.2h0M476.9 1528.5h0M495.8 1531.9h0M551.2 1536.3h0M291.6 1438.9h0M329.6 1470.6h0M355.3 1487.7h0M364.3 1493.1h0M428.8 1522.3h0M466.1 1533.1h0M484.7 1536.9h0M527.7 1542.2h0M540.4 1542.9h0M246.8 1399.3h0M356.8 1496.5h0M398.4 1517.7h0M403.2 1519.8h0M417.7 1525.5h0M422.5 1527.3h0M450.1 1536.0h0M493.0 1545.2h0M520.3 1548.5h0M548.4 1549.8h0M163.8 1219.0h0M170.9 1256.3h0M249.4 1413.5h0M339.1 1493.5h0M369.5 1511.3h0M384.3 1518.7h0M416.6 1532.3h0M445.1 1541.6h0M463.1 1546.3h0M477.7 1549.4h0M487.0 1551.1h0M519.7 1555.2h0M558.0 1556.5h0M304.6 1477.1h0M347.6 1506.8h0M362.3 1515.2h0M403.7 1534.6h0M417.5 1539.8h0M441.0 1547.5h0M455.1 1551.3h0M460.6 1552.6h0M475.3 1555.8h0M503.4 1560.3h0M554.8 1563.3h0M569.2 1563.0h0M237.1 1419.8h0M292.8 1476.3h0M386.2 1534.5h0M404.6 1542.2h0M447.7 1556.4h0M491.5 1565.5h0M500.8 1566.8h0M514.4 1568.3h0M518.9 1568.7h0M533.7 1569.7h0M570.7 1569.7h0M575.4 1569.5h0M173.8 1328.5h0M181.7 1345.5h0M211.0 1396.0h0M277.4 1471.9h0M327.2 1510.0h0M355.7 1527.0h0"/>
<path stroke-width="7.5" d="M551.3 1170.7h0M540.9 1180.6h0M530.0 1189.3h0M536.0 1193.5h0M534.6 1200.4h0M545.2 1203.9h0M530.1 1205.7h0M520.1 1207.4h0M529.4 1213.0h0M523.9 1217.8h0M534.6 1222.2h0M514.6 1220.1h0M533.1 1228.9h0M513.3 1227.3h0M528.8 1234.6h0M565.5 1237.3h0M495.2 1221.6h0M517.9 1237.5h0M543.0 1244.7h0M512.3 1242.3h0M468.6 1208.0h0M497.7 1241.3h0M502.6 1244.6h0M511.9 1249.6h0M521.5 1253.6h0M515.0 1258.4h0M529.9 1263.0h0M499.7 1258.6h0M510.3 1263.8h0M538.6 1271.4h0M519.3 1274.2h0M478.6 1260.9h0M526.3 1283.0h0M551.4 1285.8h0M470.4 1263.0h0M477.7 1268.6h0M530.6 1290.7h0M535.2 1291.4h0M540.2 1292.0h0M503.7 1290.3h0M508.8 1292.1h0M542.9 1299.0h0M521.1 1302.6h0M510.6 1306.9h0M523.9 1310.1h0M534.2 1311.8h0M539.7 1312.4h0M479.0 1301.2h0M492.8 1307.8h0M506.8 1319.9h0M488.6 1328.0h0M453.9 1317.9h0M465.4 1324.6h0M545.6 1346.6h0M452.3 1324.9h0M477.5 1338.1h0M492.0 1343.6h0M513.3 1356.3h0M516.7 1370.8h0M520.1 1378.2h0M452.9 1363.9h0M461.9 1368.2h0M481.4 1375.8h0M413.0 1355.5h0M447.0 1376.1h0M533.6 1400.2h0M448.4 1384.3h0M457.9 1388.6h0M558.5 1407.6h0M490.4 1406.6h0M518.8 1412.2h0M475.7 1409.5h0M562.1 1421.0h0M423.0 1394.0h0M435.3 1400.5h0M471.7 1415.3h0M498.6 1422.4h0M567.3 1427.6h0M439.0 1409.8h0M474.9 1423.4h0M530.0 1433.8h0M542.9 1434.6h0M407.0 1408.3h0M446.5 1427.8h0M384.9 1402.0h0M418.3 1422.3h0M449.5 1436.2h0M393.7 1416.0h0M429.3 1435.2h0M470.3 1450.3h0M515.9 1459.6h0M572.6 1461.1h0M380.7 1415.5h0M401.2 1428.4h0M446.8 1449.7h0M451.0 1451.2h0M370.6 1416.7h0M545.6 1475.3h0M354.1 1412.7h0M381.5 1432.3h0M426.3 1456.1h0M508.7 1479.1h0M531.5 1481.4h0M549.4 1482.1h0M408.7 1455.3h0M486.1 1482.0h0M449.8 1479.4h0M468.3 1484.8h0M472.6 1485.9h0M590.7 1493.5h0M416.5 1473.9h0M472.3 1492.8h0M338.0 1434.4h0M522.0 1507.9h0M364.5 1461.5h0M427.6 1493.1h0M432.5 1494.9h0M511.4 1513.6h0M255.1 1364.7h0M406.0 1491.5h0M410.8 1493.6h0M498.5 1518.7h0M276.5 1403.6h0M336.2 1458.7h0M463.5 1518.5h0M467.4 1519.5h0M335.2 1466.3h0M343.4 1472.0h0M411.9 1508.7h0M416.7 1510.6h0M537.3 1536.0h0M213.6 1333.7h0M313.0 1457.8h0M383.0 1503.1h0M386.4 1504.7h0M396.1 1509.3h0M415.3 1517.3h0M446.9 1528.1h0M322.7 1473.9h0M361.6 1499.3h0M374.9 1506.5h0M380.7 1509.5h0M608.5 1545.7h0M281.2 1447.8h0M468.1 1547.4h0M492.7 1552.0h0M326.1 1492.9h0M380.8 1524.6h0M390.0 1528.8h0M450.6 1550.1h0M498.9 1559.7h0M517.3 1561.8h0M234.1 1416.1h0M252.9 1438.2h0M280.8 1465.9h0M318.5 1495.9h0M326.8 1501.6h0M363.7 1523.6h0M381.1 1532.2h0M419.2 1547.6h0M428.9 1550.9h0M443.0 1555.1h0M453.1 1557.8h0M157.2 1283.4h0M172.2 1324.7h0M188.2 1358.3h0M192.8 1366.7h0M252.9 1448.1h0M269.7 1464.8h0M399.7 1547.6h0"/>
<path stroke-width="8.0" d="M546.7 1176.2h0M546.3 1183.3h0M536.1 1185.6h0M525.5 1194.3h0M529.4 1197.4h0M515.0 1203.0h0M539.4 1216.5h0M500.1 1216.9h0M508.7 1232.4h0M493.8 1229.6h0M526.8 1255.2h0M486.3 1241.0h0M490.7 1244.5h0M510.9 1256.6h0M535.4 1264.1h0M481.2 1254.3h0M507.4 1277.2h0M501.1 1281.9h0M520.3 1288.5h0M540.3 1305.6h0M498.2 1331.4h0M501.1 1346.4h0M465.0 1354.7h0M473.6 1358.4h0M477.1 1367.1h0M396.8 1333.5h0M460.3 1374.9h0M478.9 1382.1h0M460.1 1382.1h0M618.1 1391.7h0M466.7 1392.1h0M409.1 1369.3h0M416.5 1374.3h0M499.4 1408.8h0M548.4 1421.2h0M413.1 1396.1h0M465.8 1420.5h0M443.0 1426.4h0M520.5 1446.5h0M364.0 1385.8h0M444.7 1434.4h0M554.3 1455.1h0M432.7 1436.7h0M492.2 1455.7h0M693.9 1449.0h0M386.4 1443.2h0M324.7 1405.1h0M444.7 1477.7h0M428.6 1486.2h0M494.7 1504.3h0M512.5 1506.9h0M317.6 1426.1h0M361.0 1467.3h0M387.1 1482.3h0M378.7 1493.2h0M467.5 1526.5h0M486.6 1530.4h0M504.8 1533.2h0M377.3 1500.1h0M391.7 1507.3h0M405.9 1513.5h0M545.0 1543.0h0M687.8 1518.1h0M270.7 1427.5h0M502.6 1546.6h0M274.7 1441.4h0M312.6 1474.8h0M361.1 1506.8h0M507.9 1560.9h0M676.0 1550.9h0M249.5 1444.5h0"/>
<path stroke-width="8.5" d="M525.3 1210.8h0M515.2 1212.2h0M558.0 1224.7h0M505.6 1212.8h0M499.4 1225.4h0M502.7 1228.2h0M503.5 1237.1h0M473.2 1227.4h0M500.6 1251.2h0M524.4 1275.6h0M499.6 1288.6h0M484.6 1326.4h0M512.7 1335.4h0M384.0 1289.0h0M434.1 1415.0h0M440.2 1432.5h0M518.0 1453.0h0M417.5 1459.5h0M409.1 1463.1h0M363.7 1444.9h0M326.4 1424.9h0M663.5 1505.2h0M357.7 1473.2h0M333.6 1473.5h0M432.9 1523.7h0M189.5 1294.8h0M329.5 1487.1h0M374.3 1513.8h0M393.6 1523.0h0M317.4 1486.8h0M344.1 1504.7h0M332.2 1505.2h0M461.7 1559.8h0M166.5 1310.6h0M246.8 1441.5h0M343.3 1520.0h0"/>
<path stroke-width="9.0" d="M501.7 1197.7h0M509.8 1216.5h0M509.6 1224.8h0M518.8 1230.4h0M489.1 1260.0h0M487.0 1274.7h0M488.6 1306.0h0M475.0 1322.0h0M599.4 1347.6h0M614.5 1350.2h0M416.1 1340.9h0M480.5 1418.0h0M405.1 1391.1h0M429.2 1420.1h0M409.9 1417.7h0M509.1 1472.3h0M374.5 1459.8h0M490.4 1531.1h0M337.3 1476.0h0M388.3 1520.6h0M339.9 1510.0h0M339.4 1517.6h0"/>
<path stroke-width="9.5" d="M518.3 1222.4h0M475.6 1219.4h0M506.5 1246.8h0M485.7 1249.2h0M489.6 1283.9h0M471.9 1312.8h0M444.0 1397.2h0M339.1 1390.8h0M313.3 1412.9h0M569.2 1529.1h0M453.6 1522.9h0M344.3 1488.8h0M269.9 1446.2h0M142.0 1208.5h0M148.8 1250.4h0"/>
<path stroke-width="10.0" d="M482.2 1246.4h0M464.4 1248.1h0M488.0 1440.9h0M305.1 1364.0h0M344.2 1404.4h0M331.5 1446.6h0M280.9 1428.4h0M313.8 1467.1h0M404.0 1549.3h0"/>
<path stroke-width="10.5" d="M441.2 1262.9h0M429.1 1298.8h0M415.7 1357.4h0M425.3 1535.4h0M236.1 1407.6h0M266.0 1451.8h0"/>
<path stroke-width="11.0" d="M476.6 1250.5h0M431.6 1375.6h0M406.7 1384.1h0M402.2 1421.1h0M614.8 1517.3h0M248.3 1378.6h0M377.2 1537.9h0"/>
<path stroke-width="11.5" d="M430.0 1350.8h0M283.8 1421.7h0"/>
<path stroke-width="12.0" d="M457.9 1216.7h0M460.7 1281.2h0M463.9 1308.2h0M429.9 1290.2h0M426.6 1323.3h0M436.8 1355.0h0M447.0 1368.5h0M366.2 1310.3h0M327.6 1314.7h0M401.4 1388.7h0M429.3 1405.1h0M420.7 1408.2h0M376.6 1387.3h0M420.6 1415.8h0M322.5 1373.8h0M245.5 1270.3h0M354.1 1421.3h0M369.1 1432.2h0M287.8 1374.9h0M325.9 1415.4h0M214.9 1236.2h0M357.5 1448.8h0M328.3 1435.3h0M351.7 1453.1h0M306.7 1425.3h0M351.9 1461.4h0M295.9 1424.3h0M317.0 1443.5h0M274.7 1411.8h0M300.5 1438.0h0M630.9 1534.9h0M301.9 1457.3h0M310.4 1464.4h0M288.8 1463.9h0M292.7 1467.3h0M151.7 1229.6h0M240.3 1423.8h0M259.0 1444.7h0M139.7 1174.2h0M140.1 1184.5h0M142.5 1213.1h0M259.5 1455.0h0M319.3 1504.8h0M347.3 1522.3h0M408.7 1551.0h0"/>
</g>
<path d="M595.6 754.0A412.3 412.3 0 0 0 246.1 888.1" fill="none" stroke="#99ccff" stroke-width="8.6" stroke-linecap="round"/><path d="M652.3 763.6A412.7 412.7 0 0 0 581.3 752.3" fill="none" stroke="#99ccff" stroke-width="6.6" stroke-linecap="round"/><path d="M707.2 781.2A412.9 412.9 0 0 0 638.3 760.1" fill="none" stroke="#99ccff" stroke-width="4.6" stroke-linecap="round"/><path d="M255.6 877.3A412.7 412.7 0 0 0 169.9 1009.4" fill="none" stroke="#99ccff" stroke-width="6.6" stroke-linecap="round"/><path d="M594.9 760.7A405.5 405.5 0 0 0 427.2 778.3" fill="none" stroke="#99ccff" stroke-width="6.4" stroke-linecap="round"/><path d="M556.8 1158.7A6.8 6.8 0 0 0 549.6 1157.9" fill="none" stroke="#99ccff" stroke-width="7.4" stroke-linecap="round"/><path d="M561.0 1153.5A13.5 13.5 0 0 0 546.8 1151.7" fill="none" stroke="#99ccff" stroke-width="7.4" stroke-linecap="round"/><path d="M565.3 1148.2A20.3 20.3 0 0 0 543.9 1145.6" fill="none" stroke="#99ccff" stroke-width="7.4" stroke-linecap="round"/><path d="M569.5 1143.0A27.1 27.1 0 0 0 541.1 1139.5" fill="none" stroke="#99ccff" stroke-width="7.4" stroke-linecap="round"/><path d="M573.8 1137.7A33.8 33.8 0 0 0 538.2 1133.3" fill="none" stroke="#99ccff" stroke-width="7.4" stroke-linecap="round"/><path d="M578.1 1132.4A40.6 40.6 0 0 0 535.3 1127.2" fill="none" stroke="#99ccff" stroke-width="7.4" stroke-linecap="round"/><path d="M582.3 1127.2A47.4 47.4 0 0 0 532.5 1121.1" fill="none" stroke="#99ccff" stroke-width="7.4" stroke-linecap="round"/><path d="M586.6 1121.9A54.1 54.1 0 0 0 529.6 1114.9" fill="none" stroke="#99ccff" stroke-width="7.4" stroke-linecap="round"/><path d="M590.8 1116.7A60.9 60.9 0 0 0 526.8 1108.8" fill="none" stroke="#99ccff" stroke-width="7.4" stroke-linecap="round"/><path d="M595.1 1111.4A67.7 67.7 0 0 0 523.9 1102.7" fill="none" stroke="#99ccff" stroke-width="7.4" stroke-linecap="round"/><path d="M562.9 1155.3A13.5 13.5 0 0 0 561.0 1153.5" fill="none" stroke="#99ccff" stroke-width="6.6" stroke-linecap="round"/><path d="M568.1 1150.9A20.3 20.3 0 0 0 565.3 1148.2" fill="none" stroke="#99ccff" stroke-width="6.6" stroke-linecap="round"/><path d="M573.2 1146.6A27.1 27.1 0 0 0 569.5 1143.0" fill="none" stroke="#99ccff" stroke-width="6.6" stroke-linecap="round"/><path d="M578.4 1142.2A33.8 33.8 0 0 0 573.8 1137.7" fill="none" stroke="#99ccff" stroke-width="6.6" stroke-linecap="round"/><path d="M583.6 1137.9A40.6 40.6 0 0 0 578.1 1132.4" fill="none" stroke="#99ccff" stroke-width="6.6" stroke-linecap="round"/><path d="M588.8 1133.5A47.4 47.4 0 0 0 582.3 1127.2" fill="none" stroke="#99ccff" stroke-width="6.6" stroke-linecap="round"/><path d="M594.0 1129.2A54.1 54.1 0 0 0 586.6 1121.9" fill="none" stroke="#99ccff" stroke-width="6.6" stroke-linecap="round"/><path d="M600.2 1126.1A60.9 60.9 0 0 0 596.0 1121.3" fill="none" stroke="#99ccff" stroke-width="6.6" stroke-linecap="round"/><path d="M605.5 1121.9A67.7 67.7 0 0 0 600.8 1116.6" fill="none" stroke="#99ccff" stroke-width="6.6" stroke-linecap="round"/><path d="M610.8 1117.6A74.5 74.5 0 0 0 605.6 1111.8" fill="none" stroke="#99ccff" stroke-width="6.6" stroke-linecap="round"/><path d="M616.1 1113.4A81.2 81.2 0 0 0 610.4 1107.1" fill="none" stroke="#99ccff" stroke-width="6.6" stroke-linecap="round"/><path d="M621.4 1109.2A88.0 88.0 0 0 0 615.3 1102.3" fill="none" stroke="#99ccff" stroke-width="6.6" stroke-linecap="round"/><path d="M626.7 1105.0A94.8 94.8 0 0 0 620.1 1097.6" fill="none" stroke="#99ccff" stroke-width="6.6" stroke-linecap="round"/><g fill="none" stroke="#99ccff" stroke-linecap="round">
<path stroke-width="3.5" d="M566.6 1118.8h0M607.5 1095.3h0M601.6 1067.5h0M502.2 1068.1h0M646.2 1076.0h0M483.9 1055.2h0M618.5 1038.1h0M613.5 1035.6h0M662.2 1063.3h0M650.4 1051.8h0M617.3 1029.9h0M667.5 1059.0h0M473.1 1030.1h0M631.4 1022.0h0M492.7 1013.0h0M629.6 1013.4h0M618.4 1008.1h0M486.0 1008.4h0M618.1 1000.7h0M461.0 1013.7h0M445.4 1024.3h0M628.5 990.4h0M643.1 989.9h0M688.4 1013.1h0M656.7 989.7h0M665.6 987.2h0M416.7 1004.0h0M646.6 968.9h0M462.2 967.1h0M479.2 953.0h0M642.4 952.2h0M612.1 941.7h0M444.2 953.3h0M662.6 946.6h0M650.8 941.1h0M382.9 989.0h0M689.4 954.3h0M637.3 914.0h0M779.5 1004.4h0M666.7 911.0h0M687.5 913.8h0M675.8 907.8h0M655.7 899.1h0M740.7 942.0h0M680.1 902.4h0M671.4 898.3h0M415.4 907.3h0M395.4 919.0h0M379.7 929.8h0M686.2 897.9h0M352.4 943.4h0M392.7 904.7h0M675.1 877.8h0M691.1 877.6h0M330.5 926.8h0M290.5 971.9h0M722.4 879.1h0M701.9 867.9h0M354.8 897.7h0M787.0 920.0h0M679.6 850.3h0M350.9 892.1h0M295.8 943.5h0M260.5 992.8h0M724.2 856.7h0M710.5 849.5h0M704.4 846.5h0M314.2 905.0h0M730.6 852.6h0M331.9 881.1h0M328.9 883.5h0M303.3 905.9h0M684.1 823.0h0M303.5 896.4h0M311.8 880.0h0M292.1 898.0h0M307.5 874.7h0M295.8 885.1h0M738.0 825.7h0M719.4 808.6h0M711.0 804.8h0M249.2 914.8h0M742.7 812.9h0M223.7 925.6h0M798.9 832.7h0M783.0 821.5h0"/>
<path stroke-width="4.0" d="M595.5 1131.1h0M602.3 1083.3h0M572.0 1064.4h0M468.3 1107.3h0M591.7 1063.1h0M487.0 1069.4h0M594.3 1042.4h0M652.3 1072.5h0M606.1 1039.7h0M477.3 1051.4h0M459.8 1065.4h0M655.6 1066.2h0M636.0 1049.0h0M630.2 1045.0h0M607.4 1032.9h0M575.3 1016.8h0M619.7 1023.6h0M591.9 1006.4h0M612.2 1005.6h0M606.3 1003.5h0M599.8 1001.5h0M684.0 1037.0h0M630.6 998.8h0M463.4 1004.4h0M613.3 984.5h0M620.1 979.7h0M481.4 981.0h0M624.5 974.1h0M368.6 1078.0h0M459.5 975.9h0M635.1 963.8h0M439.5 979.2h0M713.5 1009.2h0M651.9 964.0h0M644.0 960.2h0M625.8 953.0h0M593.7 944.5h0M463.9 959.0h0M460.9 960.3h0M647.8 954.5h0M392.1 998.9h0M662.3 954.1h0M472.8 940.9h0M469.6 942.1h0M674.0 952.8h0M639.3 936.3h0M633.2 934.1h0M666.8 941.1h0M652.0 934.2h0M646.2 931.7h0M647.2 924.8h0M630.3 918.8h0M627.2 917.9h0M659.7 922.7h0M672.2 921.1h0M439.8 917.8h0M698.4 920.0h0M664.2 902.6h0M652.6 897.9h0M299.9 1033.6h0M682.8 903.7h0M652.8 890.8h0M632.2 884.1h0M404.8 913.2h0M404.1 905.8h0M394.1 911.8h0M713.0 905.1h0M660.3 879.1h0M643.9 873.5h0M626.5 868.5h0M691.6 885.4h0M686.7 883.0h0M668.1 874.9h0M638.7 864.8h0M624.4 861.1h0M694.2 879.2h0M688.3 876.3h0M679.4 872.3h0M677.2 871.3h0M637.7 857.5h0M335.3 931.6h0M697.7 873.4h0M691.6 870.4h0M615.3 845.2h0M361.3 901.3h0M694.2 864.1h0M384.8 877.8h0M374.0 884.4h0M782.4 915.6h0M703.5 861.1h0M636.3 836.1h0M632.6 835.2h0M347.5 894.7h0M665.2 837.7h0M629.7 827.5h0M303.8 924.6h0M262.2 977.3h0M680.4 836.1h0M618.2 818.2h0M268.9 955.5h0M733.8 854.5h0M696.2 835.3h0M684.3 830.3h0M677.4 827.7h0M660.6 821.9h0M354.7 864.7h0M279.7 920.8h0M255.8 950.6h0M725.9 834.6h0M699.9 822.1h0M690.0 818.1h0M638.5 801.8h0M324.4 869.8h0M321.3 872.2h0M764.1 849.5h0M707.4 818.0h0M682.3 807.9h0M678.0 806.3h0M351.5 842.6h0M313.4 869.9h0M727.2 820.0h0M724.2 818.5h0M715.2 814.2h0M703.6 809.0h0M620.2 784.2h0M247.4 927.9h0M762.3 832.2h0M788.0 841.5h0M710.5 797.2h0M298.8 855.6h0M758.3 813.9h0M749.4 808.8h0M693.7 783.2h0M164.6 1043.8h0M754.8 804.1h0M741.8 797.0h0"/>
<path stroke-width="4.5" d="M567.8 1141.7h0M564.5 1132.4h0M556.9 1130.4h0M563.8 1125.0h0M533.0 1128.4h0M569.8 1119.9h0M562.8 1117.8h0M584.3 1104.2h0M570.1 1098.6h0M574.1 1092.7h0M582.4 1081.2h0M582.7 1074.2h0M621.5 1089.5h0M590.4 1069.8h0M580.0 1066.3h0M604.8 1061.5h0M578.3 1051.9h0M472.3 1081.5h0M451.9 1108.1h0M595.9 1050.2h0M587.2 1040.2h0M580.1 1038.4h0M523.0 1038.8h0M597.3 1036.3h0M598.6 1029.5h0M591.5 1027.3h0M608.5 1026.0h0M599.9 1022.8h0M523.4 1011.1h0M507.7 1014.9h0M685.7 1071.0h0M620.6 1016.5h0M605.8 1010.6h0M595.5 1007.3h0M496.1 1011.6h0M478.9 1019.2h0M676.8 1049.1h0M637.8 1017.9h0M593.0 999.7h0M511.6 999.8h0M621.6 1002.1h0M602.7 995.3h0M480.4 1003.5h0M599.7 987.4h0M574.0 982.5h0M505.3 987.4h0M610.2 983.5h0M600.1 980.6h0M455.8 1001.0h0M691.5 1025.4h0M629.5 983.4h0M625.9 981.9h0M623.5 981.0h0M606.5 975.3h0M602.8 974.3h0M607.8 968.6h0M597.7 966.0h0M490.1 970.8h0M460.7 982.9h0M628.6 968.5h0M621.9 966.0h0M611.9 962.8h0M608.4 961.7h0M598.4 959.2h0M434.8 990.3h0M655.2 973.3h0M618.8 957.8h0M601.7 953.1h0M594.4 951.5h0M590.8 950.8h0M574.7 948.5h0M634.7 956.3h0M619.0 950.8h0M590.6 943.9h0M450.3 965.4h0M632.6 948.3h0M626.3 946.0h0M622.6 944.8h0M619.8 943.9h0M606.1 940.2h0M466.7 950.4h0M690.0 971.1h0M647.8 947.1h0M645.2 946.0h0M618.7 936.5h0M615.4 935.6h0M354.1 1034.5h0M629.6 932.9h0M626.2 931.8h0M604.5 925.9h0M589.7 923.2h0M748.4 1008.0h0M649.3 933.0h0M633.9 927.2h0M609.7 920.2h0M606.0 919.3h0M426.2 947.8h0M655.6 928.4h0M597.7 910.8h0M627.1 910.8h0M610.3 906.4h0M598.7 904.1h0M594.2 903.3h0M587.3 902.3h0M641.5 908.3h0M624.3 902.9h0M617.9 901.3h0M606.8 898.8h0M595.3 896.7h0M382.3 953.4h0M648.2 903.5h0M637.8 899.9h0M624.6 896.0h0M617.3 894.1h0M613.5 893.3h0M404.2 929.5h0M349.5 974.8h0M667.2 903.9h0M661.3 901.4h0M642.2 894.2h0M638.8 893.1h0M618.1 887.4h0M399.7 924.3h0M387.3 932.7h0M662.0 894.3h0M646.3 888.5h0M639.5 886.3h0M635.7 885.1h0M618.4 880.5h0M610.8 878.8h0M429.0 900.4h0M364.9 941.4h0M689.3 899.5h0M678.2 894.0h0M662.8 887.3h0M656.9 885.1h0M646.9 881.5h0M640.0 879.3h0M626.7 875.6h0M607.6 871.3h0M388.0 915.7h0M681.6 888.1h0M672.8 884.2h0M656.4 877.7h0M636.7 871.3h0M416.4 891.5h0M655.2 870.1h0M617.8 859.6h0M673.9 870.0h0M667.3 867.3h0M647.7 860.4h0M361.0 910.0h0M657.7 856.6h0M633.8 849.4h0M306.8 951.4h0M785.1 927.5h0M757.5 903.3h0M662.4 851.1h0M635.3 842.8h0M349.0 902.1h0M305.7 942.5h0M750.9 889.8h0M677.0 849.3h0M646.1 838.8h0M418.7 853.1h0M391.7 866.2h0M387.6 868.4h0M647.9 832.2h0M633.7 828.5h0M626.9 826.9h0M741.6 867.1h0M673.6 833.5h0M670.7 832.5h0M667.4 831.3h0M646.4 824.8h0M643.7 824.0h0M636.4 822.2h0M629.6 820.6h0M400.6 846.5h0M366.8 865.0h0M319.3 900.4h0M713.7 843.5h0M670.3 825.1h0M653.5 819.8h0M650.0 818.7h0M646.5 817.8h0M365.6 857.8h0M667.4 817.0h0M386.8 838.2h0M308.4 892.0h0M791.9 878.9h0M756.7 852.7h0M696.8 820.8h0M680.8 814.5h0M677.2 813.2h0M660.3 807.7h0M646.5 803.8h0M642.6 802.8h0M616.6 797.3h0M592.5 793.9h0M369.3 839.9h0M221.0 994.7h0M758.7 845.9h0M698.3 814.1h0M684.8 808.8h0M661.4 800.9h0M654.2 798.8h0M643.9 796.1h0M632.9 793.6h0M690.8 803.8h0M676.7 798.7h0M659.3 793.3h0M652.7 791.4h0M648.8 790.4h0M641.7 788.6h0M624.0 784.9h0M616.0 783.4h0M568.5 778.5h0M319.3 856.6h0M707.7 803.4h0M667.1 788.5h0M656.7 785.5h0M621.0 777.4h0M716.4 799.8h0M693.9 790.5h0M687.7 788.2h0M677.3 784.6h0M670.5 782.5h0M659.5 779.2h0M653.2 777.6h0M642.0 774.8h0M295.8 858.1h0M280.2 871.9h0M769.7 820.9h0M731.5 799.5h0M707.8 788.8h0M696.3 784.2h0M689.8 781.8h0M662.2 773.0h0M658.7 772.0h0M625.8 764.5h0M278.7 864.0h0M806.9 838.8h0M774.3 815.7h0M761.3 807.8h0M725.1 788.9h0"/>
<path stroke-width="5.0" d="M567.8 1150.6h0M557.5 1144.3h0M560.9 1138.3h0M577.8 1141.6h0M560.2 1131.0h0M570.4 1127.5h0M560.1 1124.1h0M581.3 1126.4h0M569.8 1112.7h0M555.5 1109.9h0M573.1 1106.7h0M569.7 1105.5h0M525.5 1109.4h0M516.5 1114.9h0M588.1 1106.4h0M608.8 1115.3h0M594.6 1102.6h0M563.1 1090.3h0M599.3 1097.6h0M586.2 1090.1h0M579.2 1087.3h0M576.0 1086.3h0M571.9 1085.1h0M564.8 1083.7h0M615.6 1102.7h0M592.7 1085.7h0M579.1 1080.1h0M575.5 1079.1h0M589.1 1076.6h0M578.5 1072.9h0M599.7 1074.1h0M582.9 1067.1h0M556.0 1062.5h0M514.5 1069.8h0M588.2 1061.8h0M585.2 1060.8h0M578.2 1058.8h0M558.3 1055.9h0M489.9 1075.7h0M585.4 1053.7h0M575.3 1051.2h0M648.0 1088.3h0M642.4 1081.8h0M592.5 1048.9h0M585.6 1046.7h0M563.9 1042.7h0M550.0 1042.2h0M514.2 1048.3h0M603.5 1045.9h0M576.9 1037.7h0M569.0 1036.5h0M497.4 1047.8h0M591.0 1034.2h0M587.2 1033.1h0M583.7 1032.3h0M503.2 1037.9h0M446.9 1079.2h0M658.3 1069.1h0M601.3 1030.5h0M594.6 1028.2h0M588.5 1026.5h0M577.3 1024.0h0M614.4 1028.6h0M440.4 1065.9h0M435.4 1072.0h0M584.8 1011.7h0M640.8 1027.6h0M617.8 1015.3h0M614.8 1014.0h0M608.4 1011.5h0M598.8 1008.3h0M577.7 1003.5h0M565.2 1002.0h0M609.1 1004.5h0M588.8 998.7h0M585.6 998.1h0M414.0 1066.8h0M615.4 999.6h0M611.9 998.3h0M608.8 997.3h0M588.4 991.7h0M584.5 991.0h0M650.5 1009.7h0M615.7 992.5h0M612.8 991.5h0M585.3 984.2h0M580.9 983.5h0M569.6 982.0h0M493.8 990.9h0M490.1 992.2h0M694.6 1038.6h0M606.4 982.3h0M597.0 979.8h0M589.9 978.2h0M570.3 975.3h0M486.2 986.5h0M483.1 987.7h0M652.0 994.8h0M635.0 985.9h0M613.9 977.5h0M599.5 973.4h0M596.2 972.6h0M518.0 970.8h0M424.1 1015.5h0M704.7 1029.6h0M601.5 966.9h0M571.2 961.8h0M482.2 973.5h0M727.2 1047.8h0M704.0 1018.8h0M625.5 967.3h0M608.9 954.9h0M600.7 945.9h0M597.4 945.2h0M581.7 942.6h0M541.7 940.9h0M475.4 954.3h0M335.4 1111.5h0M651.0 956.0h0M635.8 949.5h0M460.6 953.0h0M727.5 1004.3h0M622.0 937.5h0M612.1 934.7h0M593.7 930.7h0M622.3 930.5h0M619.0 929.6h0M611.9 927.7h0M608.7 926.9h0M597.3 924.5h0M414.9 962.9h0M626.6 924.8h0M619.5 922.7h0M616.0 921.7h0M602.3 918.6h0M597.7 917.7h0M590.4 916.4h0M573.6 914.4h0M395.3 969.1h0M661.1 930.8h0M658.7 929.7h0M643.7 923.5h0M637.5 921.3h0M616.7 914.9h0M612.6 913.9h0M609.9 913.3h0M605.3 912.3h0M569.6 907.4h0M498.3 912.6h0M471.4 919.9h0M640.7 915.2h0M633.8 912.9h0M614.0 907.3h0M602.6 904.8h0M454.8 918.8h0M389.0 956.7h0M705.6 940.7h0M638.0 907.1h0M621.1 902.1h0M610.8 899.6h0M583.0 895.0h0M574.6 894.2h0M467.7 906.9h0M428.7 923.2h0M641.2 901.0h0M631.5 898.0h0M620.6 895.0h0M545.7 886.6h0M522.2 888.1h0M454.2 904.5h0M427.3 916.3h0M382.5 944.6h0M658.5 900.2h0M631.9 891.0h0M628.1 889.9h0M610.4 885.7h0M591.2 882.4h0M674.2 899.6h0M665.5 895.8h0M659.5 893.3h0M655.9 891.9h0M628.5 883.0h0M625.6 882.3h0M622.1 881.4h0M607.3 878.2h0M300.3 1018.7h0M672.6 891.5h0M636.9 878.4h0M622.4 874.5h0M615.2 872.8h0M612.3 872.2h0M646.7 874.3h0M629.8 869.4h0M623.0 867.7h0M619.2 866.8h0M615.8 866.1h0M604.2 863.8h0M409.5 895.1h0M273.2 1042.5h0M635.6 863.9h0M631.9 862.9h0M628.1 862.0h0M613.5 858.7h0M597.5 855.9h0M585.1 854.4h0M521.2 854.2h0M417.0 883.7h0M413.4 885.4h0M388.8 899.1h0M660.8 864.9h0M644.0 859.3h0M619.6 853.0h0M615.9 852.2h0M611.7 851.4h0M600.9 849.6h0M400.1 884.8h0M392.9 888.8h0M321.8 945.0h0M680.1 865.2h0M676.7 863.8h0M647.4 853.3h0M644.1 852.3h0M623.3 846.9h0M618.7 845.9h0M611.8 844.6h0M595.4 842.0h0M583.7 840.6h0M410.2 871.9h0M655.7 848.8h0M652.2 847.7h0M649.3 846.8h0M638.5 843.7h0M631.8 841.9h0M628.7 841.2h0M463.1 844.6h0M410.6 864.2h0M253.0 1021.4h0M705.8 862.3h0M639.5 836.9h0M625.8 833.6h0M622.0 832.8h0M431.3 848.0h0M293.1 946.6h0M257.1 998.9h0M690.3 847.5h0M675.2 841.3h0M672.0 840.1h0M644.3 831.2h0M637.3 829.4h0M619.4 825.3h0M595.6 821.5h0M560.5 818.9h0M474.9 827.6h0M340.3 891.7h0M683.7 837.4h0M677.7 835.0h0M663.9 830.1h0M653.9 826.9h0M649.8 825.7h0M640.2 823.1h0M593.9 814.5h0M397.1 848.2h0M356.5 871.6h0M305.8 913.0h0M264.8 961.2h0M246.2 990.5h0M716.5 844.9h0M663.5 822.9h0M643.0 816.9h0M639.2 815.9h0M632.8 814.3h0M617.6 811.2h0M613.9 810.5h0M601.4 808.6h0M341.8 873.6h0M311.7 898.1h0M677.6 820.5h0M664.0 815.9h0M660.1 814.7h0M653.6 812.7h0M650.3 811.8h0M643.4 810.0h0M636.1 808.2h0M632.9 807.4h0M628.3 806.4h0M620.7 804.9h0M571.8 799.0h0M439.4 816.4h0M357.1 855.1h0M306.1 894.0h0M723.3 833.2h0M708.7 826.1h0M687.2 816.9h0M674.0 812.1h0M663.1 808.5h0M649.7 804.6h0M608.2 795.9h0M393.0 827.6h0M351.6 850.6h0M657.3 799.7h0M651.0 798.0h0M636.6 794.4h0M617.9 790.6h0M614.5 790.1h0M519.1 786.4h0M514.6 786.8h0M330.2 857.0h0M693.8 805.0h0M673.4 797.6h0M670.3 796.6h0M663.5 794.5h0M656.5 792.5h0M630.9 786.2h0M627.8 785.6h0M595.7 780.6h0M371.4 823.3h0M277.2 893.7h0M261.7 910.4h0M713.7 806.0h0M701.3 800.7h0M670.7 789.6h0M663.9 787.6h0M650.6 783.9h0M643.2 782.0h0M635.6 780.3h0M632.6 779.7h0M628.3 778.8h0M624.3 778.0h0M612.8 776.1h0M517.9 772.9h0M351.5 826.8h0M325.0 844.0h0M312.1 853.7h0M259.3 903.0h0M740.2 811.5h0M691.1 789.5h0M666.5 781.2h0M663.5 780.4h0M645.5 775.6h0M635.2 773.3h0M620.2 770.4h0M616.3 769.8h0M611.5 769.0h0M586.2 766.1h0M318.8 840.1h0M212.1 955.2h0M737.2 802.3h0M724.1 795.9h0M717.7 793.0h0M711.2 790.2h0M700.5 785.8h0M682.4 779.2h0M651.9 770.2h0M644.3 768.4h0M641.4 767.7h0M610.5 762.0h0M588.7 759.5h0M318.0 832.4h0M296.3 848.9h0M285.2 858.2h0M282.4 860.7h0M233.5 912.7h0M217.1 935.0h0M206.8 950.8h0M804.6 837.0h0M764.9 809.9h0M749.0 800.9h0M745.0 798.7h0M738.7 795.5h0M735.8 794.0h0M732.5 792.4h0M728.9 790.7h0M715.2 784.5h0"/>
<path stroke-width="5.5" d="M558.5 1151.8h0M554.7 1150.6h0M565.5 1148.4h0M553.8 1143.7h0M572.0 1145.2h0M574.6 1138.4h0M567.3 1126.2h0M546.3 1123.9h0M589.4 1134.3h0M573.8 1121.7h0M559.3 1117.1h0M593.4 1128.6h0M585.3 1120.9h0M577.3 1115.9h0M574.2 1114.4h0M566.6 1111.7h0M563.1 1110.9h0M599.6 1125.3h0M565.5 1104.5h0M562.8 1104.0h0M535.2 1105.6h0M602.6 1118.4h0M581.0 1102.6h0M577.4 1101.1h0M549.5 1096.4h0M527.0 1101.3h0M581.0 1095.2h0M577.4 1093.8h0M570.5 1091.8h0M559.1 1089.8h0M545.0 1089.9h0M612.1 1108.8h0M569.1 1084.5h0M561.3 1083.3h0M537.7 1084.1h0M620.7 1108.4h0M568.7 1077.5h0M551.4 1076.0h0M528.1 1079.4h0M586.5 1075.5h0M518.7 1075.5h0M514.0 1077.4h0M632.7 1101.8h0M629.6 1097.9h0M586.7 1068.4h0M575.6 1065.1h0M568.2 1063.7h0M638.9 1098.7h0M634.1 1092.8h0M574.7 1058.0h0M566.6 1056.6h0M516.4 1061.9h0M513.2 1063.1h0M642.4 1092.2h0M639.6 1088.8h0M636.6 1085.5h0M588.5 1054.7h0M566.6 1049.8h0M563.6 1049.5h0M530.4 1051.1h0M506.1 1058.7h0M644.8 1084.4h0M526.2 1045.0h0M572.8 1037.0h0M559.8 1035.6h0M603.2 1038.5h0M580.7 1031.6h0M576.6 1030.8h0M665.8 1078.1h0M663.2 1074.9h0M573.5 1023.4h0M596.5 1021.7h0M570.2 1016.1h0M617.2 1022.4h0M581.3 1011.0h0M569.6 1009.3h0M560.3 1008.5h0M510.7 1014.0h0M454.1 1043.4h0M602.5 1009.4h0M588.7 1005.6h0M528.7 1003.3h0M615.3 1006.9h0M596.0 1000.5h0M581.9 997.4h0M578.3 996.8h0M573.7 996.1h0M569.7 995.7h0M561.0 995.0h0M519.3 998.1h0M605.5 996.2h0M569.8 988.9h0M561.2 988.2h0M546.7 988.1h0M641.4 1004.3h0M627.8 997.5h0M596.2 986.6h0M592.4 985.7h0M541.7 981.6h0M497.7 989.6h0M457.0 1008.2h0M407.2 1053.2h0M651.0 1002.1h0M622.5 987.9h0M603.0 981.3h0M586.1 977.5h0M577.6 976.1h0M552.3 974.5h0M528.5 976.0h0M502.2 981.3h0M610.4 976.4h0M577.4 969.3h0M560.1 967.9h0M508.4 972.7h0M621.6 973.1h0M611.9 969.8h0M574.9 962.2h0M565.8 961.4h0M562.2 961.2h0M506.2 966.3h0M451.1 988.0h0M634.1 970.7h0M631.6 969.6h0M615.8 963.9h0M605.0 960.8h0M601.6 960.0h0M594.3 958.4h0M591.0 957.7h0M582.5 956.3h0M578.5 955.8h0M500.8 960.6h0M395.6 1024.7h0M625.9 960.2h0M605.1 953.9h0M569.6 948.1h0M565.1 941.0h0M494.8 948.2h0M645.1 953.3h0M602.3 939.3h0M598.0 938.4h0M586.5 936.4h0M582.7 935.9h0M569.6 934.5h0M537.1 934.4h0M532.6 934.7h0M471.0 948.8h0M681.9 965.6h0M635.6 942.1h0M625.9 938.7h0M608.0 933.7h0M601.4 932.2h0M596.9 931.3h0M560.1 927.2h0M531.0 928.1h0M497.9 933.5h0M582.0 922.1h0M442.8 946.4h0M417.3 961.3h0M411.5 965.2h0M655.4 935.7h0M636.4 928.0h0M612.5 920.9h0M594.5 917.1h0M582.6 915.4h0M456.4 932.7h0M436.0 942.3h0M577.5 908.0h0M653.3 920.0h0M647.8 917.8h0M631.0 912.0h0M624.2 909.9h0M606.4 905.6h0M582.4 901.7h0M578.6 901.3h0M569.9 900.6h0M555.7 900.0h0M472.0 912.6h0M451.4 920.1h0M443.9 923.4h0M657.8 914.6h0M654.1 913.0h0M635.1 906.1h0M586.7 895.4h0M569.7 893.8h0M484.7 901.9h0M735.6 955.4h0M654.2 905.8h0M603.0 891.1h0M599.0 890.4h0M594.5 889.7h0M582.6 888.1h0M578.6 887.7h0M565.2 886.8h0M507.2 890.2h0M498.4 891.8h0M474.6 897.6h0M400.7 931.7h0M380.2 946.5h0M347.0 977.5h0M645.2 895.2h0M625.5 889.2h0M606.5 884.9h0M598.9 883.5h0M587.3 881.9h0M573.8 880.5h0M570.5 880.3h0M560.6 879.8h0M546.0 879.8h0M498.3 884.9h0M457.5 896.1h0M445.6 900.6h0M426.7 909.1h0M614.6 879.7h0M600.1 876.9h0M587.8 875.1h0M574.1 873.7h0M517.4 875.1h0M433.2 898.5h0M425.2 902.3h0M630.0 876.4h0M618.9 873.7h0M599.9 870.0h0M553.1 866.2h0M542.7 866.3h0M504.2 870.1h0M449.4 884.6h0M669.8 882.9h0M633.5 870.4h0M575.1 860.2h0M508.8 862.6h0M503.4 863.4h0M495.1 864.9h0M462.4 873.1h0M457.2 874.7h0M432.1 884.2h0M428.1 886.0h0M324.0 962.6h0M620.6 860.2h0M605.6 857.2h0M593.5 855.4h0M581.4 854.0h0M478.7 861.5h0M436.8 874.9h0M406.7 888.9h0M361.4 918.2h0M657.3 863.6h0M650.7 861.4h0M640.5 858.3h0M630.4 855.6h0M607.8 850.7h0M603.7 850.0h0M595.8 848.8h0M584.2 847.5h0M552.0 845.9h0M480.2 854.2h0M422.3 873.7h0M419.0 875.2h0M711.4 880.6h0M674.1 862.7h0M664.4 859.0h0M651.0 854.4h0M637.4 850.4h0M626.5 847.6h0M607.8 843.8h0M604.4 843.3h0M599.8 842.6h0M569.8 839.6h0M532.6 839.7h0M503.9 842.8h0M475.8 848.3h0M443.5 857.9h0M395.5 879.5h0M678.9 857.4h0M624.8 840.3h0M614.0 838.1h0M609.6 837.3h0M601.6 836.0h0M499.9 836.5h0M490.7 838.1h0M279.6 975.5h0M254.8 1017.7h0M669.9 846.6h0M653.5 841.0h0M618.3 832.0h0M609.8 830.5h0M594.5 828.2h0M422.8 851.4h0M359.7 885.9h0M696.7 850.4h0M654.8 834.3h0M640.5 830.2h0M611.3 823.8h0M607.9 823.3h0M603.7 822.6h0M582.7 820.1h0M517.1 820.6h0M376.7 866.9h0M356.0 880.2h0M328.2 901.6h0M317.2 911.4h0M286.8 943.6h0M235.6 1027.1h0M719.3 854.0h0M657.3 828.0h0M632.6 821.3h0M625.2 819.6h0M597.4 814.9h0M449.4 827.5h0M430.5 833.9h0M404.7 844.6h0M325.0 895.4h0M288.1 931.7h0M787.7 893.2h0M656.7 820.7h0M625.1 812.7h0M593.0 807.6h0M580.4 806.3h0M576.6 806.1h0M452.8 819.4h0M817.7 912.4h0M699.8 829.5h0M687.0 824.1h0M671.2 818.3h0M625.2 805.8h0M617.8 804.4h0M613.6 803.6h0M597.0 801.2h0M593.0 800.7h0M519.1 800.0h0M509.8 801.0h0M457.3 811.1h0M416.0 825.0h0M407.8 828.4h0M364.4 850.6h0M667.0 809.8h0M635.7 801.1h0M632.2 800.3h0M628.2 799.5h0M623.9 798.6h0M596.1 794.3h0M588.1 793.4h0M452.1 805.5h0M410.9 819.7h0M384.9 831.6h0M333.8 862.7h0M302.8 887.9h0M701.2 815.3h0M691.6 811.4h0M688.1 810.0h0M675.4 805.4h0M671.8 804.2h0M647.7 797.1h0M640.5 795.3h0M629.9 792.9h0M622.3 791.4h0M598.0 787.7h0M580.1 786.0h0M553.2 785.0h0M524.8 786.0h0M504.5 788.0h0M471.7 793.7h0M463.0 795.7h0M444.3 800.7h0M407.8 813.6h0M373.4 829.9h0M327.0 859.3h0M266.7 915.1h0M679.9 799.8h0M645.8 789.6h0M638.3 787.8h0M634.7 787.0h0M604.0 781.6h0M507.7 780.8h0M383.6 817.1h0M359.4 830.0h0M183.2 1052.3h0M754.5 827.4h0M684.8 794.4h0M680.9 793.0h0M674.0 790.7h0M646.7 782.9h0M639.3 781.1h0M616.7 776.7h0M608.7 775.5h0M583.1 772.6h0M574.3 772.0h0M555.9 771.4h0M545.8 771.5h0M484.2 777.4h0M480.1 778.1h0M419.2 794.7h0M371.1 815.8h0M358.8 822.5h0M354.4 825.0h0M347.2 829.4h0M340.1 833.8h0M321.7 846.4h0M318.3 848.9h0M264.2 897.5h0M706.9 795.7h0M656.6 778.5h0M649.2 776.5h0M638.4 774.0h0M623.6 771.0h0M603.5 767.9h0M449.8 778.1h0M440.8 780.6h0M435.9 782.0h0M390.9 798.8h0M308.7 847.7h0M233.4 923.8h0M231.0 927.1h0M224.9 935.6h0M721.1 794.5h0M679.6 778.3h0M672.2 775.9h0M669.0 775.0h0M665.3 773.8h0M655.2 771.1h0M636.6 766.7h0M633.3 766.0h0M629.1 765.2h0M622.1 763.9h0M614.6 762.7h0M593.2 759.9h0M557.4 757.9h0M508.7 760.2h0M500.3 761.2h0M475.9 765.2h0M429.2 777.0h0M362.5 805.0h0M299.0 846.7h0M275.9 866.6h0M266.1 876.1h0M210.8 944.4h0M185.4 990.3h0M751.6 802.3h0"/>
<path stroke-width="6.0" d="M551.3 1157.3h0M561.9 1154.3h0M561.2 1145.7h0M564.3 1139.7h0M557.2 1137.3h0M567.9 1133.9h0M542.6 1131.6h0M583.4 1137.6h0M578.0 1132.4h0M574.5 1129.9h0M586.4 1130.9h0M550.2 1116.7h0M536.2 1119.5h0M559.6 1110.3h0M545.4 1110.3h0M536.5 1112.3h0M596.8 1122.2h0M576.5 1108.0h0M558.7 1103.4h0M554.5 1103.1h0M548.7 1103.2h0M530.1 1107.3h0M605.4 1121.7h0M599.9 1115.7h0M563.4 1097.2h0M554.8 1096.4h0M531.6 1099.6h0M588.5 1098.8h0M567.4 1091.0h0M526.1 1094.4h0M522.1 1096.0h0M614.8 1111.8h0M551.7 1082.8h0M533.5 1085.0h0M617.9 1105.1h0M585.9 1082.6h0M564.6 1076.8h0M532.9 1078.2h0M627.0 1105.4h0M624.0 1101.9h0M608.1 1087.3h0M575.1 1072.0h0M559.5 1069.5h0M527.6 1072.6h0M564.4 1063.2h0M560.2 1062.8h0M546.8 1062.6h0M532.6 1064.4h0M511.1 1071.3h0M570.9 1057.3h0M543.9 1056.0h0M521.2 1060.3h0M558.2 1049.1h0M526.1 1052.0h0M579.1 1045.1h0M567.4 1043.1h0M506.7 1051.1h0M654.5 1085.7h0M652.3 1082.8h0M639.2 1069.0h0M564.4 1035.9h0M555.9 1035.4h0M541.6 1035.9h0M531.6 1037.1h0M490.4 1051.4h0M559.8 1028.8h0M507.5 1036.3h0M610.4 1034.2h0M642.2 1045.2h0M538.6 1015.7h0M512.3 1020.6h0M573.2 1009.7h0M552.4 1008.3h0M541.7 1008.7h0M430.6 1067.2h0M556.5 1001.6h0M603.2 1002.6h0M566.3 995.3h0M508.1 1000.7h0M504.2 1001.8h0M541.6 988.3h0M527.6 989.8h0M518.3 991.4h0M463.9 1012.0h0M708.2 1068.4h0M633.4 1000.1h0M609.9 990.5h0M551.9 981.2h0M527.2 983.0h0M502.4 988.3h0M574.2 975.7h0M542.2 974.8h0M536.9 975.1h0M510.2 979.3h0M581.8 969.9h0M564.3 968.1h0M527.7 969.3h0M579.3 962.7h0M547.9 961.0h0M538.1 961.4h0M533.2 961.9h0M528.1 962.4h0M518.8 963.8h0M510.2 965.4h0M574.9 955.4h0M570.9 955.0h0M566.0 954.6h0M504.7 959.7h0M488.5 964.2h0M470.7 970.8h0M551.9 947.4h0M538.4 947.9h0M518.8 950.0h0M504.8 952.7h0M646.5 961.4h0M569.7 941.3h0M551.7 940.6h0M512.4 944.3h0M485.9 950.8h0M616.0 942.8h0M595.1 937.8h0M574.2 934.9h0M555.7 933.9h0M552.2 933.9h0M541.9 934.1h0M523.4 935.7h0M508.2 938.2h0M495.0 941.2h0M585.8 929.4h0M581.5 928.9h0M550.8 927.1h0M507.5 931.4h0M428.1 962.4h0M648.3 940.0h0M601.6 925.3h0M594.0 923.9h0M585.1 922.5h0M569.1 920.9h0M563.9 920.6h0M559.1 920.4h0M555.2 920.3h0M540.3 920.6h0M492.5 927.8h0M475.9 932.7h0M379.8 992.1h0M586.1 915.8h0M578.6 914.9h0M568.9 914.1h0M564.9 913.9h0M513.1 916.7h0M508.3 917.5h0M485.3 922.7h0M594.4 910.2h0M590.2 909.6h0M586.3 909.0h0M582.0 908.5h0M573.4 907.6h0M565.0 907.1h0M560.0 906.9h0M555.5 906.8h0M516.5 909.3h0M507.3 910.8h0M492.9 913.8h0M617.3 908.1h0M565.6 900.3h0M560.2 900.1h0M527.5 901.2h0M404.8 945.2h0M395.6 951.7h0M377.5 966.3h0M351.6 992.7h0M614.4 900.4h0M578.3 894.5h0M560.5 893.4h0M512.6 896.2h0M418.9 928.5h0M627.7 896.9h0M527.3 887.6h0M517.2 888.7h0M484.2 895.0h0M480.0 896.1h0M434.3 912.9h0M430.5 914.7h0M595.0 882.9h0M579.0 880.9h0M565.2 880.0h0M550.8 879.7h0M541.6 879.9h0M537.3 880.1h0M527.7 880.8h0M518.3 881.8h0M513.2 882.4h0M448.9 899.3h0M603.6 877.5h0M591.4 875.6h0M528.2 874.0h0M522.7 874.5h0M489.3 879.9h0M448.5 892.2h0M697.9 904.1h0M592.6 868.9h0M556.7 866.2h0M548.1 866.2h0M508.9 869.4h0M453.2 883.2h0M433.2 891.1h0M428.6 893.2h0M333.7 961.9h0M639.9 872.2h0M595.6 862.5h0M592.6 862.1h0M570.1 859.9h0M537.6 859.8h0M489.8 865.9h0M475.8 869.2h0M439.4 881.2h0M739.6 915.1h0M662.6 872.7h0M645.6 866.9h0M610.1 858.0h0M577.1 853.6h0M573.1 853.3h0M559.4 852.7h0M553.8 852.6h0M501.8 856.8h0M497.5 857.5h0M441.7 873.0h0M308.6 970.5h0M562.1 846.0h0M542.7 846.0h0M533.3 846.5h0M528.0 846.8h0M512.9 848.3h0M499.4 850.3h0M462.1 859.0h0M426.5 871.9h0M734.4 894.8h0M722.8 887.3h0M640.6 851.3h0M587.2 841.0h0M579.2 840.2h0M527.1 840.1h0M498.8 843.6h0M489.5 845.3h0M417.6 868.4h0M413.6 870.3h0M405.7 874.2h0M398.7 877.8h0M235.6 1092.3h0M620.8 839.4h0M616.8 838.6h0M605.7 836.6h0M597.7 835.4h0M584.4 833.9h0M576.9 833.2h0M567.2 832.7h0M562.7 832.5h0M482.2 839.9h0M476.8 841.1h0M449.8 848.6h0M427.1 856.9h0M418.6 860.6h0M682.9 851.7h0M606.1 829.8h0M602.8 829.3h0M598.8 828.7h0M581.3 826.8h0M577.5 826.5h0M571.9 826.1h0M553.6 825.6h0M520.8 827.1h0M487.3 831.9h0M469.0 836.0h0M464.3 837.3h0M459.3 838.6h0M445.3 843.0h0M427.6 849.5h0M366.4 881.3h0M615.3 824.6h0M599.9 822.1h0M586.7 820.5h0M578.6 819.8h0M574.4 819.5h0M565.3 819.0h0M554.9 818.8h0M551.2 818.8h0M545.7 818.9h0M507.1 821.8h0M478.9 826.7h0M469.7 828.9h0M456.2 832.5h0M451.4 833.9h0M441.5 837.1h0M423.5 843.8h0M407.0 851.0h0M366.7 873.0h0M359.6 877.7h0M689.9 840.0h0M621.5 818.9h0M613.7 817.4h0M606.6 816.2h0M585.7 813.6h0M580.5 813.1h0M548.3 812.1h0M524.2 813.2h0M511.0 814.5h0M505.5 815.2h0M486.2 818.3h0M440.3 830.4h0M436.1 831.8h0M421.7 837.2h0M418.0 838.7h0M381.7 856.3h0M674.2 826.5h0M629.3 813.6h0M622.0 812.1h0M609.9 809.9h0M605.4 809.2h0M589.1 807.1h0M584.8 806.7h0M562.8 805.4h0M558.1 805.3h0M543.8 805.4h0M539.4 805.5h0M519.4 806.8h0M505.4 808.4h0M499.8 809.1h0M467.8 815.4h0M421.0 830.2h0M380.0 849.5h0M338.1 876.4h0M719.4 838.8h0M705.7 832.2h0M609.8 803.0h0M600.8 801.7h0M580.4 799.6h0M576.3 799.3h0M566.5 798.8h0M562.6 798.6h0M548.4 798.5h0M543.3 798.6h0M532.8 799.0h0M524.2 799.6h0M513.4 800.6h0M433.9 818.3h0M430.0 819.6h0M425.4 821.3h0M421.5 822.8h0M403.7 830.2h0M378.5 842.6h0M375.1 844.4h0M612.9 796.6h0M574.3 792.4h0M569.7 792.1h0M560.6 791.8h0M493.9 796.4h0M489.4 797.1h0M484.5 798.0h0M479.3 799.0h0M437.3 810.0h0M434.1 811.1h0M429.4 812.7h0M414.8 818.1h0M389.5 829.3h0M739.1 834.1h0M704.1 816.6h0M625.7 792.1h0M610.6 789.4h0M606.6 788.8h0M602.3 788.2h0M593.9 787.2h0M589.5 786.8h0M585.2 786.4h0M576.6 785.7h0M571.1 785.4h0M567.2 785.2h0M548.0 785.0h0M529.0 785.7h0M500.5 788.5h0M466.7 794.8h0M438.9 802.4h0M434.6 803.7h0M390.2 821.5h0M386.2 823.4h0M279.3 901.2h0M273.9 907.0h0M712.8 813.0h0M611.8 782.8h0M607.3 782.1h0M591.1 780.1h0M582.8 779.4h0M573.7 778.8h0M563.9 778.3h0M554.5 778.2h0M545.0 778.3h0M512.5 780.3h0M502.4 781.4h0M488.3 783.6h0M483.8 784.4h0M464.4 788.4h0M441.6 794.5h0M432.2 797.4h0M423.1 800.5h0M413.9 803.9h0M396.6 811.1h0M374.6 821.6h0M604.4 774.9h0M600.7 774.4h0M587.6 773.0h0M578.5 772.3h0M570.5 771.8h0M565.1 771.6h0M537.0 771.7h0M521.7 772.6h0M503.1 774.5h0M460.1 782.4h0M447.3 785.8h0M436.8 788.8h0M405.9 799.8h0M391.8 805.8h0M388.7 807.2h0M344.0 831.4h0M315.1 851.4h0M308.2 856.7h0M302.1 861.6h0M283.6 878.0h0M754.1 819.3h0M673.8 783.5h0M599.2 767.4h0M582.6 765.8h0M578.4 765.5h0M563.5 764.8h0M560.0 764.7h0M544.8 764.7h0M535.5 765.0h0M454.8 776.8h0M378.2 804.7h0M369.4 809.1h0M337.5 827.4h0M330.5 832.0h0M743.3 805.5h0M714.3 791.5h0M648.0 769.3h0M617.7 763.1h0M601.6 760.9h0M584.4 759.1h0M570.6 758.3h0M566.2 758.1h0M504.4 760.7h0M485.7 763.4h0M433.4 775.7h0M424.9 778.4h0M415.3 781.7h0M384.9 794.0h0M375.5 798.5h0M359.0 806.9h0M346.3 814.1h0M321.6 829.9h0M307.1 840.4h0M208.6 948.0h0M821.4 850.7h0M780.0 819.4h0M770.9 813.6h0M722.2 787.6h0"/>
<path stroke-width="6.5" d="M546.2 1152.0h0M545.5 1144.9h0M553.1 1136.9h0M549.3 1137.1h0M548.2 1130.4h0M538.4 1133.2h0M542.1 1124.7h0M577.5 1123.7h0M555.7 1116.7h0M545.7 1117.1h0M540.4 1118.2h0M581.5 1118.2h0M550.1 1109.9h0M531.5 1114.1h0M588.0 1114.5h0M544.0 1103.7h0M573.4 1099.6h0M559.0 1096.6h0M539.8 1097.5h0M535.9 1098.4h0M605.9 1112.2h0M591.4 1100.5h0M535.2 1091.6h0M531.2 1092.6h0M557.1 1082.9h0M542.6 1083.4h0M523.9 1088.0h0M560.1 1076.3h0M556.4 1076.1h0M564.7 1070.0h0M556.1 1069.3h0M551.3 1069.2h0M536.7 1070.6h0M531.7 1071.5h0M636.3 1095.4h0M553.9 1055.7h0M534.3 1057.2h0M525.2 1059.2h0M554.4 1048.9h0M544.8 1049.2h0M535.3 1050.2h0M571.9 1043.7h0M558.6 1042.3h0M617.3 1052.9h0M527.5 1037.9h0M657.9 1079.0h0M555.2 1028.7h0M540.8 1029.1h0M510.6 1035.3h0M483.4 1047.6h0M551.4 1021.9h0M562.0 1015.4h0M557.5 1015.2h0M534.8 1016.1h0M487.1 1030.2h0M537.3 1009.1h0M519.2 1011.9h0M552.3 1001.6h0M557.5 994.9h0M552.4 994.8h0M547.9 994.8h0M542.6 995.1h0M533.8 995.8h0M581.1 990.4h0M556.6 988.1h0M537.7 988.6h0M560.7 981.4h0M565.1 974.9h0M532.3 975.6h0M452.6 1002.9h0M569.0 968.4h0M551.7 967.7h0M522.0 970.1h0M504.9 973.6h0M485.5 979.5h0M695.7 1020.0h0M633.9 978.0h0M552.0 960.9h0M523.9 963.0h0M471.7 977.7h0M429.5 1002.4h0M383.5 1051.4h0M542.3 954.4h0M528.5 955.6h0M514.5 957.6h0M492.6 962.9h0M598.5 952.3h0M582.3 949.5h0M579.2 949.1h0M556.9 947.4h0M499.8 953.9h0M574.3 941.7h0M532.0 941.6h0M590.7 937.0h0M578.6 935.3h0M499.0 940.2h0M577.4 928.4h0M569.1 927.7h0M526.9 928.5h0M512.1 930.6h0M480.9 938.2h0M437.8 956.7h0M577.3 921.6h0M545.1 920.4h0M535.6 920.9h0M516.2 923.1h0M464.1 936.9h0M546.2 913.6h0M503.1 918.5h0M464.8 929.4h0M432.5 944.2h0M452.4 927.1h0M574.0 900.9h0M532.4 900.8h0M517.8 902.3h0M502.9 904.7h0M480.5 910.0h0M459.4 917.0h0M631.6 905.1h0M565.4 893.6h0M541.9 893.5h0M522.7 894.9h0M494.7 899.5h0M480.8 902.9h0M590.2 889.1h0M587.0 888.6h0M551.0 886.5h0M493.3 892.9h0M488.8 893.9h0M602.8 884.2h0M508.6 883.1h0M488.9 886.9h0M480.7 888.9h0M475.3 890.4h0M348.0 966.6h0M693.6 909.4h0M565.2 873.2h0M556.3 873.0h0M536.9 873.4h0M508.9 876.2h0M503.5 877.1h0M485.1 880.9h0M475.3 883.4h0M471.0 884.6h0M466.8 885.8h0M437.5 896.6h0M382.9 927.5h0M368.4 938.5h0M604.5 870.7h0M583.5 867.8h0M579.5 867.4h0M566.3 866.5h0M528.6 867.1h0M518.1 868.2h0M499.7 870.9h0M495.1 871.8h0M490.0 872.8h0M587.8 861.5h0M583.2 861.0h0M578.9 860.6h0M557.0 859.4h0M552.0 859.4h0M533.1 860.0h0M499.2 864.1h0M471.4 870.4h0M453.3 876.0h0M444.1 879.3h0M362.0 926.3h0M706.3 893.3h0M601.7 856.6h0M590.0 854.9h0M567.8 853.0h0M563.2 852.8h0M549.8 852.6h0M539.7 852.9h0M530.2 853.4h0M526.0 853.8h0M511.8 855.3h0M492.2 858.5h0M482.8 860.5h0M473.9 862.7h0M468.9 864.1h0M592.5 848.4h0M587.6 847.8h0M578.9 847.0h0M575.6 846.7h0M570.3 846.4h0M566.2 846.2h0M546.5 845.9h0M537.9 846.2h0M523.0 847.2h0M490.0 852.1h0M470.9 856.5h0M452.7 861.9h0M414.8 877.2h0M411.1 879.0h0M291.3 982.3h0M592.0 841.5h0M551.5 839.1h0M542.3 839.3h0M517.5 841.0h0M494.0 844.4h0M485.1 846.2h0M346.7 912.6h0M593.4 834.9h0M589.5 834.4h0M581.2 833.6h0M571.8 832.9h0M558.5 832.4h0M553.7 832.3h0M548.5 832.4h0M533.7 832.9h0M472.6 842.1h0M444.1 850.5h0M414.5 862.4h0M334.4 914.1h0M589.4 827.6h0M562.9 825.7h0M549.6 825.6h0M544.0 825.7h0M501.1 829.5h0M496.5 830.2h0M491.4 831.1h0M483.0 832.8h0M477.2 834.0h0M454.6 840.0h0M449.5 841.6h0M319.1 918.9h0M591.0 820.9h0M568.8 819.2h0M541.3 819.0h0M536.7 819.2h0M531.3 819.4h0M521.1 820.2h0M502.3 822.5h0M493.1 823.9h0M464.5 830.2h0M446.2 835.6h0M428.1 842.0h0M419.7 845.4h0M240.0 1017.3h0M609.7 816.7h0M601.9 815.5h0M571.6 812.5h0M567.4 812.3h0M558.4 812.1h0M543.5 812.1h0M539.2 812.3h0M534.3 812.5h0M490.9 817.5h0M477.2 820.2h0M472.7 821.2h0M426.2 835.5h0M347.0 878.3h0M667.4 824.2h0M597.5 808.1h0M571.1 805.7h0M553.1 805.3h0M548.0 805.3h0M514.1 807.3h0M509.2 807.9h0M458.6 817.8h0M448.7 820.6h0M443.6 822.2h0M439.9 823.4h0M430.1 826.8h0M404.3 837.3h0M384.5 847.0h0M345.3 871.2h0M316.6 893.7h0M639.5 809.0h0M584.0 799.8h0M552.9 798.5h0M538.2 798.8h0M528.6 799.3h0M504.7 801.6h0M500.4 802.2h0M494.7 803.1h0M490.9 803.7h0M481.5 805.5h0M471.9 807.5h0M453.3 812.2h0M399.3 832.1h0M395.2 834.1h0M382.4 840.5h0M320.6 881.4h0M620.8 798.0h0M600.4 794.8h0M583.5 793.0h0M556.4 791.7h0M542.5 791.9h0M528.0 792.5h0M498.8 795.6h0M470.2 800.9h0M461.1 803.1h0M455.8 804.5h0M442.8 808.3h0M406.4 821.6h0M362.1 844.1h0M286.7 903.4h0M713.5 820.8h0M544.1 785.0h0M481.2 791.7h0M476.0 792.8h0M425.4 806.9h0M378.5 827.3h0M358.3 838.5h0M333.5 854.6h0M721.5 817.2h0M599.7 781.1h0M577.7 779.0h0M550.7 778.2h0M541.0 778.4h0M536.2 778.5h0M531.2 778.8h0M520.9 779.5h0M497.5 782.1h0M473.5 786.4h0M469.8 787.1h0M445.9 793.2h0M417.9 802.4h0M387.6 815.2h0M378.8 819.5h0M351.9 834.4h0M313.3 861.3h0M595.9 773.8h0M498.3 775.2h0M493.7 775.8h0M465.4 781.2h0M451.2 784.7h0M428.7 791.4h0M423.3 793.3h0M409.9 798.2h0M366.6 818.2h0M728.3 805.4h0M590.9 766.5h0M568.9 765.0h0M554.1 764.6h0M549.6 764.7h0M525.2 765.6h0M520.6 765.9h0M516.5 766.3h0M507.4 767.2h0M501.7 767.9h0M497.3 768.5h0M482.7 770.8h0M474.0 772.4h0M468.9 773.5h0M464.6 774.4h0M395.8 796.7h0M345.2 822.7h0M323.2 837.0h0M247.4 906.4h0M704.1 787.2h0M597.0 760.3h0M579.9 758.8h0M575.2 758.5h0M562.6 758.0h0M551.9 757.9h0M547.5 757.9h0M542.6 758.0h0M533.7 758.3h0M518.3 759.3h0M489.9 762.7h0M470.9 766.2h0M451.9 770.5h0M448.6 771.4h0M411.0 783.3h0M398.4 788.3h0M393.1 790.5h0M389.5 792.0h0M367.8 802.3h0M341.9 816.8h0M314.5 834.9h0M271.9 870.4h0M795.6 830.3h0M711.3 782.9h0"/>
<path stroke-width="7.0" d="M555.9 1158.1h0M550.4 1150.6h0M543.8 1138.3h0M571.8 1136.2h0M552.4 1130.2h0M555.7 1123.5h0M537.6 1126.2h0M539.9 1104.4h0M544.6 1096.8h0M590.3 1092.1h0M528.7 1086.3h0M541.4 1076.7h0M567.8 1070.5h0M546.5 1069.4h0M537.2 1063.6h0M527.9 1065.5h0M549.9 1049.0h0M539.3 1049.7h0M545.1 1042.4h0M536.3 1036.4h0M660.0 1081.7h0M551.4 1028.6h0M514.5 1034.1h0M543.4 1015.4h0M530.0 1016.8h0M556.8 1008.4h0M547.2 1008.4h0M532.4 1009.6h0M489.3 1021.7h0M561.7 1001.8h0M551.8 988.0h0M561.4 974.7h0M518.3 977.6h0M555.4 967.7h0M590.8 964.6h0M552.5 954.2h0M547.7 954.2h0M519.0 956.9h0M509.1 958.7h0M566.4 947.8h0M527.7 948.8h0M513.6 950.9h0M420.5 992.2h0M546.5 940.7h0M536.8 941.2h0M508.3 945.1h0M503.0 946.2h0M546.3 933.9h0M527.3 935.2h0M513.5 937.2h0M540.1 927.4h0M536.0 927.7h0M493.3 934.6h0M374.5 1007.6h0M550.2 920.3h0M526.1 921.8h0M360.6 1013.9h0M540.8 913.8h0M535.8 914.1h0M516.7 916.1h0M499.0 919.3h0M550.9 906.8h0M546.3 906.9h0M541.5 907.0h0M522.2 908.6h0M489.7 907.6h0M383.6 961.1h0M533.0 894.0h0M528.1 894.3h0M518.2 895.4h0M556.3 886.5h0M541.7 886.7h0M512.6 889.4h0M503.0 890.9h0M457.3 903.3h0M522.7 881.3h0M503.8 883.9h0M484.7 887.9h0M462.0 894.5h0M393.5 928.3h0M547.5 873.0h0M512.9 875.7h0M373.9 934.2h0M570.4 866.7h0M514.2 868.6h0M486.1 873.7h0M480.2 875.1h0M458.3 881.5h0M675.9 885.5h0M565.5 859.7h0M542.9 859.6h0M527.8 860.4h0M513.5 861.9h0M484.6 867.1h0M515.3 854.9h0M506.9 856.0h0M349.4 928.0h0M335.6 940.6h0M556.9 845.9h0M504.7 849.5h0M475.6 855.3h0M466.1 857.8h0M435.5 868.2h0M685.9 867.8h0M537.3 839.5h0M523.1 840.4h0M508.2 842.1h0M480.1 847.3h0M470.8 849.5h0M461.0 852.3h0M447.9 856.4h0M401.8 876.2h0M524.1 833.5h0M505.5 835.7h0M496.0 837.2h0M486.7 838.9h0M458.6 845.9h0M431.7 855.1h0M377.9 882.0h0M358.6 894.9h0M568.1 825.9h0M529.8 826.3h0M524.7 826.7h0M506.7 828.7h0M483.5 825.8h0M590.2 814.0h0M576.2 812.8h0M563.1 812.2h0M520.4 813.5h0M496.4 816.5h0M467.2 822.5h0M458.3 824.9h0M454.4 826.0h0M370.6 862.7h0M359.9 869.4h0M567.6 805.6h0M524.1 806.4h0M462.1 816.8h0M435.3 824.9h0M588.2 800.2h0M557.5 798.5h0M466.1 808.8h0M447.7 813.8h0M411.4 826.8h0M317.6 883.9h0M314.7 886.4h0M551.4 791.7h0M522.2 793.0h0M508.1 794.4h0M474.8 799.9h0M424.7 814.3h0M377.3 835.5h0M354.5 848.7h0M308.5 882.8h0M562.2 785.1h0M538.6 785.2h0M534.1 785.4h0M491.0 790.0h0M485.5 790.9h0M457.5 797.0h0M449.2 799.3h0M430.5 805.1h0M403.3 815.5h0M197.3 1031.6h0M560.3 778.3h0M493.4 782.7h0M478.6 785.3h0M460.4 789.3h0M455.5 790.6h0M451.1 791.7h0M437.1 795.9h0M426.9 799.2h0M409.3 805.8h0M355.3 832.4h0M202.6 1001.4h0M561.2 771.5h0M526.5 772.3h0M513.2 773.4h0M507.4 774.0h0M489.6 776.5h0M455.6 783.6h0M442.6 787.1h0M433.0 790.0h0M380.1 811.3h0M374.8 813.9h0M540.8 764.8h0M511.8 766.7h0M487.3 770.0h0M445.6 779.2h0M431.5 783.4h0M422.6 786.4h0M408.7 791.4h0M349.0 820.4h0M302.3 852.7h0M283.0 869.3h0M605.5 761.4h0M523.4 758.9h0M514.6 759.7h0M480.2 764.4h0M461.8 768.1h0M457.2 769.2h0M420.6 779.9h0M379.7 796.5h0M354.7 809.3h0M337.8 819.2h0M333.7 821.9h0M326.0 826.9h0"/>
<path stroke-width="7.5" d="M551.5 1123.4h0M554.4 1089.6h0M549.6 1089.6h0M540.4 1090.5h0M546.8 1083.0h0M546.2 1076.2h0M541.8 1069.8h0M530.6 1057.9h0M546.2 1035.5h0M548.8 1015.1h0M533.2 1002.7h0M537.8 995.4h0M516.2 998.7h0M500.8 1002.9h0M555.6 981.3h0M479.5 996.5h0M547.5 974.5h0M523.2 976.8h0M514.3 964.6h0M502.0 967.3h0M407.1 1022.2h0M561.8 954.4h0M522.3 942.7h0M564.5 927.4h0M502.1 932.5h0M521.3 922.3h0M511.9 923.7h0M521.9 915.4h0M488.6 921.9h0M547.0 900.1h0M541.4 900.3h0M494.1 906.6h0M555.8 893.3h0M489.7 900.6h0M761.5 981.4h0M560.0 886.6h0M532.7 880.4h0M494.7 885.7h0M570.6 873.5h0M551.5 872.9h0M499.3 877.8h0M480.6 882.0h0M537.4 866.6h0M523.7 867.6h0M462.9 880.0h0M480.2 868.1h0M494.9 851.1h0M447.8 863.6h0M443.8 865.0h0M439.1 866.7h0M365.1 898.6h0M558.2 825.6h0M515.9 827.6h0M440.6 844.6h0M436.3 846.1h0M526.9 819.7h0M512.8 821.1h0M488.9 824.7h0M432.4 840.4h0M515.8 813.9h0M444.7 828.9h0M331.5 890.0h0M477.1 813.3h0M391.7 843.3h0M358.0 862.5h0M484.9 804.8h0M476.0 806.6h0M547.1 791.8h0M536.7 792.1h0M781.0 861.5h0M382.3 825.3h0M370.3 831.6h0M362.2 836.2h0M343.8 847.6h0M339.8 850.3h0M301.8 879.7h0M586.7 779.7h0M517.2 779.8h0M405.2 807.4h0M362.9 828.0h0M551.4 771.4h0M542.1 771.5h0M532.3 771.9h0M469.4 780.3h0M396.4 803.8h0M266.9 894.7h0M478.0 771.6h0M459.5 775.6h0M417.4 788.2h0M413.8 789.5h0M386.8 800.7h0M538.4 758.1h0M528.2 758.6h0M466.4 767.1h0M443.8 772.7h0M438.1 774.3h0M402.8 786.5h0M776.9 817.4h0"/>
<path stroke-width="8.0" d="M549.9 1143.9h0M541.3 1111.0h0M486.6 1078.0h0M539.8 1042.8h0M518.7 1032.9h0M528.1 1024.0h0M453.5 1010.4h0M441.5 1018.8h0M533.9 955.0h0M490.1 949.5h0M503.5 939.1h0M526.3 914.9h0M526.5 908.1h0M502.9 911.6h0M560.8 873.1h0M532.5 873.6h0M494.4 878.8h0M518.2 861.3h0M467.2 871.6h0M412.8 893.3h0M273.3 1011.6h0M514.6 834.5h0M535.0 826.0h0M733.6 870.1h0M498.0 823.1h0M399.6 854.5h0M485.5 811.6h0M292.4 907.2h0M373.8 837.4h0M495.9 789.2h0M323.1 862.2h0M295.8 866.9h0M404.4 793.1h0M494.4 762.1h0"/>
<path stroke-width="8.5" d="M492.8 1020.2h0M523.1 956.2h0M465.2 965.8h0M518.2 936.4h0M535.9 887.0h0M470.6 891.8h0M386.4 892.7h0M724.7 864.8h0M500.3 815.9h0M383.1 809.8h0M530.1 765.3h0M341.2 825.1h0"/>
<path stroke-width="9.0" d="M459.1 1056.8h0M490.1 985.1h0M447.0 967.1h0M651.0 911.8h0M399.7 940.5h0M352.4 925.5h0M162.8 1027.6h0M148.0 1081.3h0"/>
<path stroke-width="9.5" d="M519.3 1089.9h0M636.9 994.3h0M638.4 943.2h0M332.7 906.6h0M346.4 887.1h0M331.3 899.0h0M347.9 836.9h0"/>
<path stroke-width="10.0" d="M580.8 1134.9h0M416.6 1063.1h0M380.1 1103.4h0M435.6 882.7h0M368.1 896.5h0M328.6 892.4h0M344.4 839.1h0"/>
<path stroke-width="10.5" d="M397.9 917.4h0M398.4 862.7h0"/>
<path stroke-width="11.0" d="M311.6 1026.3h0M337.4 894.0h0M337.1 843.9h0M146.3 1090.2h0"/>
<path stroke-width="11.5" d="M422.5 903.6h0"/>
<path stroke-width="12.0" d="M532.3 1121.1h0M527.6 1115.9h0M510.8 1078.9h0M486.7 1038.0h0M387.2 975.9h0M455.4 911.3h0M418.4 905.7h0M681.6 858.5h0M186.8 987.3h0M174.4 1015.7h0M160.1 1035.4h0M156.9 1045.6h0M151.9 1063.9h0"/>
</g>
<circle cx="139.6" cy="1164.0" r="5.6" fill="#ff9999"/><circle cx="139.6" cy="1164.0" r="3.9" fill="#99ccff"/><g fill="none" stroke="#adadad" stroke-width="2.3"><circle cx="552.5" cy="1164.0" r="67.7" stroke-width="1.8"/><circle cx="552.5" cy="1164.0" r="135.4" stroke-width="1.8"/><circle cx="552.5" cy="1164.0" r="203.1" stroke-width="1.8"/><circle cx="552.5" cy="1164.0" r="270.8" stroke-width="1.8"/><circle cx="552.5" cy="1164.0" r="338.4" stroke-width="1.8"/><circle cx="552.5" cy="1164.0" r="406.1" stroke-width="1.8"/><path d="M552.5 1164.0L985.7 1164.0"/><path d="M552.5 1164.0L858.8 857.7"/><path d="M552.5 1164.0L552.5 730.8"/><path d="M552.5 1164.0L246.2 857.7"/><path d="M552.5 1164.0L119.3 1164.0"/><path d="M552.5 1164.0L246.2 1470.3"/><path d="M552.5 1164.0L552.5 1597.2"/><path d="M552.5 1164.0L858.8 1470.3"/></g>
<circle cx="552.5" cy="1164.0" r="433.2" fill="none" stroke="#000" stroke-width="2.2"/>
<g class="pl" font-size="24.5" text-anchor="middle"><text x="1020" y="1171.3">0</text><text x="553" y="703.5">0.1</text><text x="882.5" y="840"><tspan>10</tspan><tspan dy="-10" font-size="17">−4</tspan></text><text x="221" y="840"><tspan>10</tspan><tspan dy="-10" font-size="17">2</tspan></text><text x="72" y="1171"><tspan>10</tspan><tspan dy="-10" font-size="17">6</tspan><tspan dy="10">(−10</tspan><tspan dy="-10" font-size="17">4</tspan><tspan dy="10">)</tspan></text><text x="221" y="1501">-10</text><text x="552.5" y="1637"><tspan>−10</tspan><tspan dy="-10" font-size="17">−2</tspan></text><text x="882.5" y="1501"><tspan>−10</tspan><tspan dy="-10" font-size="17">−5</tspan></text><text x="631.4" y="1133.7">10</text><text x="693" y="1106.5">20</text><text x="756" y="1081">30</text><text x="817.5" y="1055">40</text><text x="880.5" y="1029">50</text><text x="943" y="1004">60</text></g>
</svg>
</body></html>
